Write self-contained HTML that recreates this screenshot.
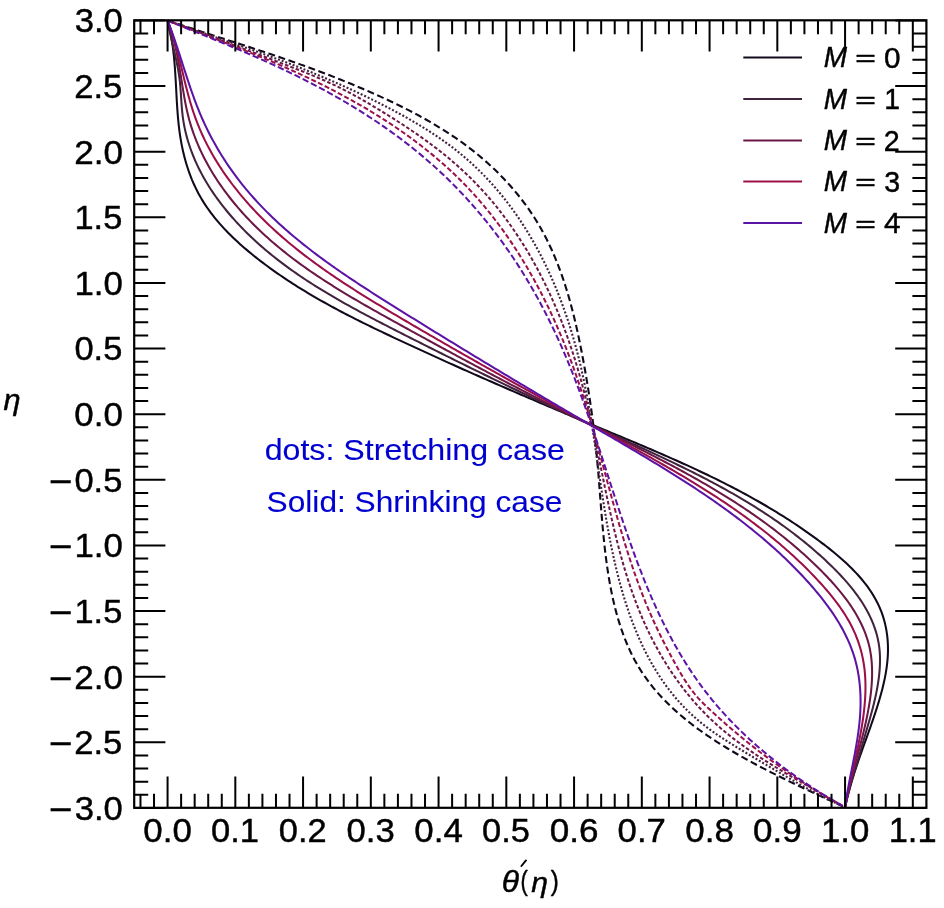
<!DOCTYPE html>
<html><head><meta charset="utf-8"><style>html,body{margin:0;padding:0;background:#fff;overflow:hidden}svg{display:block;will-change:transform}text{font-kerning:none;white-space:pre;stroke-width:0.45px;stroke-linejoin:round}text.a{stroke-width:0.1px}text.e{stroke-width:0.7px}</style></head><body>
<svg width="944" height="908" viewBox="0 0 944 908">
<rect width="944" height="908" fill="#fff"/>
<g fill="none" stroke-linejoin="round">
<path d="M167.60,20.60 L170.32,21.50 L173.05,22.40 L175.77,23.29 L178.50,24.19 L181.23,25.08 L183.95,25.96 L186.68,26.85 L189.41,27.73 L192.14,28.62 L194.86,29.50 L197.59,30.38 L200.32,31.26 L203.05,32.14 L205.78,33.01 L208.51,33.89 L211.24,34.77 L213.96,35.64 L216.69,36.52 L219.42,37.40 L222.15,38.27 L224.88,39.15 L227.60,40.03 L230.33,40.91 L233.06,41.79 L235.78,42.67 L238.51,43.55 L241.23,44.43 L243.95,45.32 L246.67,46.21 L249.39,47.10 L252.11,47.99 L254.83,48.88 L257.55,49.78 L260.27,50.68 L262.98,51.58 L265.70,52.49 L268.41,53.40 L271.12,54.31 L273.83,55.22 L276.54,56.14 L279.24,57.07 L281.95,58.00 L284.65,58.93 L287.35,59.87 L290.05,60.81 L292.75,61.76 L295.45,62.71 L298.14,63.66 L300.83,64.63 L303.52,65.59 L306.21,66.57 L308.89,67.54 L311.58,68.53 L314.26,69.52 L316.94,70.51 L319.61,71.52 L322.29,72.53 L324.96,73.54 L327.63,74.56 L330.30,75.59 L332.97,76.63 L335.63,77.67 L338.29,78.72 L340.95,79.78 L343.60,80.85 L346.26,81.92 L348.91,83.00 L351.56,84.09 L354.20,85.19 L356.84,86.29 L359.48,87.41 L362.12,88.53 L364.76,89.66 L367.39,90.80 L370.02,91.95 L372.64,93.11 L375.27,94.27 L377.89,95.45 L380.50,96.64 L383.12,97.84 L385.73,99.04 L388.34,100.26 L390.94,101.49 L393.54,102.73 L396.13,103.98 L398.72,105.24 L401.30,106.51 L403.88,107.80 L406.45,109.10 L409.01,110.41 L411.57,111.74 L414.12,113.07 L416.66,114.43 L419.20,115.79 L421.72,117.18 L424.24,118.57 L426.75,119.98 L429.25,121.41 L431.74,122.85 L434.21,124.31 L436.68,125.79 L439.14,127.28 L441.59,128.79 L444.02,130.32 L446.44,131.86 L448.85,133.42 L451.25,135.00 L453.64,136.60 L456.01,138.22 L458.36,139.86 L460.71,141.51 L463.04,143.19 L465.35,144.89 L467.65,146.61 L469.93,148.34 L472.20,150.10 L474.45,151.89 L476.69,153.69 L478.90,155.51 L481.10,157.36 L483.29,159.22 L485.45,161.11 L487.60,163.02 L489.72,164.94 L491.83,166.89 L493.92,168.86 L495.98,170.85 L498.03,172.86 L500.06,174.89 L502.06,176.93 L504.04,179.00 L506.00,181.09 L507.94,183.20 L509.85,185.32 L511.74,187.47 L513.61,189.63 L515.46,191.82 L517.27,194.02 L519.07,196.24 L520.84,198.48 L522.58,200.74 L524.29,203.02 L525.98,205.31 L527.65,207.62 L529.28,209.95 L530.89,212.30 L532.47,214.67 L534.02,217.05 L535.54,219.45 L537.03,221.87 L538.49,224.31 L539.93,226.76 L541.33,229.23 L542.71,231.72 L544.05,234.22 L545.37,236.74 L546.67,239.27 L547.93,241.82 L549.17,244.38 L550.38,246.95 L551.57,249.54 L552.73,252.14 L553.87,254.76 L554.98,257.39 L556.07,260.03 L557.14,262.68 L558.18,265.34 L559.20,268.01 L560.20,270.70 L561.18,273.39 L562.13,276.10 L563.07,278.81 L563.98,281.54 L564.88,284.27 L565.75,287.01 L566.61,289.76 L567.45,292.52 L568.27,295.28 L569.07,298.05 L569.86,300.83 L570.63,303.61 L571.38,306.40 L572.12,309.20 L572.84,312.00 L573.54,314.80 L574.24,317.61 L574.91,320.43 L575.58,323.24 L576.23,326.06 L576.87,328.89 L577.50,331.71 L578.11,334.54 L578.71,337.37 L579.31,340.20 L579.89,343.04 L580.46,345.87 L581.02,348.70 L581.58,351.54 L582.12,354.37 L582.66,357.20 L583.19,360.03 L583.71,362.86 L584.22,365.69 L584.73,368.52 L585.23,371.35 L585.72,374.17 L586.20,377.00 L586.68,379.82 L587.15,382.64 L587.61,385.46 L588.07,388.28 L588.52,391.10 L588.96,393.92 L589.39,396.74 L589.82,399.55 L590.23,402.37 L590.64,405.19 L591.05,408.00 L591.44,410.82 L591.83,413.64 L592.21,416.45 L592.59,419.27 L592.95,422.08 L593.31,424.90 L593.66,427.72 L594.01,430.53 L594.35,433.35 L594.67,436.17 L595.00,438.99 L595.31,441.81 L595.62,444.63 L595.92,447.45 L596.21,450.28 L596.50,453.10 L596.77,455.93 L597.05,458.76 L597.31,461.59 L597.56,464.43 L597.82,467.26 L598.06,470.10 L598.30,472.94 L598.53,475.78 L598.76,478.63 L598.99,481.47 L599.22,484.32 L599.44,487.17 L599.66,490.02 L599.88,492.88 L600.10,495.73 L600.32,498.59 L600.54,501.45 L600.77,504.31 L600.99,507.18 L601.22,510.04 L601.45,512.91 L601.69,515.78 L601.93,518.65 L602.17,521.53 L602.42,524.40 L602.68,527.28 L602.95,530.16 L603.22,533.04 L603.50,535.92 L603.79,538.80 L604.09,541.69 L604.39,544.58 L604.71,547.47 L605.04,550.36 L605.39,553.25 L605.74,556.14 L606.11,559.03 L606.49,561.92 L606.89,564.81 L607.30,567.70 L607.73,570.59 L608.17,573.47 L608.63,576.35 L609.11,579.22 L609.61,582.09 L610.12,584.96 L610.66,587.81 L611.21,590.66 L611.79,593.51 L612.39,596.34 L613.01,599.17 L613.65,601.99 L614.32,604.80 L615.01,607.59 L615.73,610.38 L616.47,613.16 L617.23,615.92 L618.03,618.67 L618.85,621.40 L619.70,624.13 L620.58,626.83 L621.48,629.53 L622.42,632.20 L623.39,634.86 L624.39,637.51 L625.42,640.13 L626.48,642.74 L627.58,645.32 L628.71,647.89 L629.87,650.44 L631.07,652.97 L632.30,655.47 L633.58,657.96 L634.88,660.42 L636.23,662.86 L637.61,665.27 L639.04,667.66 L640.50,670.03 L642.00,672.36 L643.55,674.68 L645.13,676.97 L646.75,679.23 L648.40,681.47 L650.10,683.69 L651.83,685.88 L653.59,688.04 L655.39,690.19 L657.22,692.31 L659.09,694.40 L660.98,696.48 L662.91,698.53 L664.87,700.56 L666.86,702.57 L668.88,704.56 L670.93,706.52 L673.01,708.47 L675.11,710.39 L677.24,712.29 L679.40,714.17 L681.58,716.04 L683.78,717.88 L686.01,719.70 L688.26,721.51 L690.54,723.29 L692.83,725.06 L695.15,726.81 L697.48,728.54 L699.84,730.25 L702.21,731.95 L704.60,733.62 L707.01,735.28 L709.43,736.93 L711.87,738.55 L714.33,740.17 L716.80,741.76 L719.28,743.34 L721.77,744.91 L724.28,746.45 L726.80,747.99 L729.33,749.51 L731.87,751.01 L734.41,752.51 L736.97,753.98 L739.53,755.45 L742.10,756.90 L744.68,758.34 L747.26,759.76 L749.85,761.18 L752.44,762.58 L755.03,763.97 L757.63,765.34 L760.23,766.71 L762.83,768.06 L765.43,769.41 L768.03,770.74 L770.62,772.07 L773.22,773.38 L775.82,774.68 L778.41,775.98 L780.99,777.26 L783.58,778.54 L786.16,779.81 L788.74,781.07 L791.32,782.32 L793.90,783.56 L796.47,784.80 L799.04,786.03 L801.61,787.25 L804.18,788.47 L806.75,789.68 L809.31,790.89 L811.88,792.09 L814.44,793.28 L817.00,794.47 L819.56,795.65 L822.11,796.83 L824.67,798.01 L827.23,799.18 L829.78,800.35 L832.33,801.51 L834.89,802.68 L837.44,803.83 L839.99,804.99 L842.55,806.15 L845.10,807.30" stroke="#120a1c" stroke-width="2.1" stroke-dasharray="7.0,3.6"/>
<path d="M167.60,20.60 L170.22,21.53 L172.85,22.46 L175.48,23.39 L178.12,24.32 L180.76,25.24 L183.41,26.17 L186.06,27.09 L188.71,28.01 L191.37,28.93 L194.03,29.85 L196.70,30.77 L199.36,31.68 L202.03,32.60 L204.71,33.52 L207.38,34.44 L210.06,35.36 L212.73,36.27 L215.41,37.19 L218.09,38.11 L220.78,39.03 L223.46,39.95 L226.14,40.88 L228.82,41.80 L231.50,42.73 L234.19,43.65 L236.87,44.58 L239.55,45.51 L242.22,46.44 L244.90,47.38 L247.58,48.32 L250.25,49.26 L252.92,50.20 L255.59,51.15 L258.25,52.10 L260.91,53.05 L263.57,54.01 L266.23,54.97 L268.88,55.93 L271.52,56.90 L274.17,57.87 L276.81,58.85 L279.44,59.83 L282.07,60.81 L284.69,61.80 L287.31,62.80 L289.92,63.80 L292.53,64.80 L295.13,65.81 L297.73,66.83 L300.32,67.85 L302.91,68.88 L305.50,69.91 L308.08,70.95 L310.66,72.00 L313.23,73.05 L315.80,74.11 L318.37,75.18 L320.93,76.25 L323.50,77.33 L326.05,78.42 L328.61,79.51 L331.16,80.61 L333.71,81.72 L336.26,82.84 L338.81,83.96 L341.35,85.10 L343.89,86.24 L346.43,87.39 L348.97,88.54 L351.50,89.71 L354.04,90.89 L356.57,92.07 L359.10,93.26 L361.64,94.47 L364.17,95.68 L366.70,96.90 L369.23,98.13 L371.75,99.37 L374.28,100.62 L376.81,101.89 L379.34,103.16 L381.87,104.44 L384.40,105.73 L386.92,107.04 L389.45,108.35 L391.97,109.68 L394.49,111.01 L397.01,112.36 L399.52,113.73 L402.03,115.10 L404.53,116.49 L407.02,117.89 L409.51,119.31 L411.99,120.74 L414.47,122.18 L416.93,123.64 L419.39,125.11 L421.83,126.60 L424.27,128.10 L426.69,129.62 L429.11,131.15 L431.51,132.70 L433.90,134.27 L436.27,135.85 L438.63,137.45 L440.97,139.07 L443.30,140.71 L445.62,142.36 L447.91,144.03 L450.19,145.72 L452.45,147.43 L454.70,149.16 L456.92,150.90 L459.12,152.67 L461.31,154.45 L463.47,156.26 L465.61,158.09 L467.73,159.93 L469.83,161.80 L471.91,163.68 L473.97,165.58 L476.01,167.51 L478.03,169.45 L480.03,171.40 L482.01,173.38 L483.96,175.37 L485.90,177.39 L487.82,179.42 L489.72,181.46 L491.60,183.53 L493.46,185.61 L495.30,187.70 L497.12,189.82 L498.92,191.95 L500.70,194.09 L502.46,196.25 L504.20,198.43 L505.93,200.62 L507.63,202.83 L509.32,205.05 L510.99,207.29 L512.63,209.54 L514.26,211.81 L515.87,214.09 L517.47,216.38 L519.04,218.69 L520.59,221.01 L522.13,223.34 L523.65,225.69 L525.15,228.05 L526.63,230.42 L528.10,232.81 L529.54,235.21 L530.97,237.62 L532.38,240.04 L533.77,242.47 L535.15,244.91 L536.51,247.37 L537.85,249.84 L539.17,252.31 L540.47,254.80 L541.76,257.30 L543.03,259.81 L544.29,262.32 L545.52,264.85 L546.74,267.39 L547.95,269.93 L549.13,272.49 L550.30,275.05 L551.45,277.63 L552.59,280.21 L553.71,282.80 L554.81,285.39 L555.90,288.00 L556.97,290.61 L558.02,293.23 L559.06,295.86 L560.08,298.49 L561.09,301.13 L562.08,303.78 L563.05,306.44 L564.01,309.10 L564.96,311.76 L565.88,314.43 L566.80,317.11 L567.69,319.79 L568.57,322.48 L569.44,325.17 L570.29,327.87 L571.13,330.57 L571.95,333.28 L572.75,335.99 L573.55,338.70 L574.32,341.42 L575.08,344.14 L575.83,346.86 L576.56,349.59 L577.28,352.32 L577.98,355.05 L578.67,357.78 L579.35,360.52 L580.01,363.26 L580.66,366.00 L581.29,368.74 L581.91,371.48 L582.52,374.23 L583.11,376.98 L583.70,379.73 L584.27,382.48 L584.83,385.23 L585.38,387.98 L585.92,390.74 L586.45,393.50 L586.97,396.26 L587.49,399.02 L587.99,401.78 L588.48,404.54 L588.97,407.30 L589.45,410.07 L589.92,412.84 L590.38,415.60 L590.84,418.37 L591.29,421.14 L591.74,423.91 L592.18,426.68 L592.61,429.46 L593.04,432.23 L593.47,435.00 L593.89,437.78 L594.31,440.56 L594.72,443.33 L595.13,446.11 L595.54,448.89 L595.95,451.67 L596.36,454.45 L596.76,457.23 L597.17,460.01 L597.57,462.79 L597.97,465.57 L598.37,468.35 L598.78,471.13 L599.18,473.91 L599.59,476.70 L599.99,479.48 L600.40,482.26 L600.82,485.04 L601.23,487.83 L601.65,490.61 L602.07,493.39 L602.49,496.18 L602.92,498.96 L603.36,501.74 L603.80,504.52 L604.24,507.31 L604.69,510.09 L605.15,512.87 L605.61,515.65 L606.08,518.43 L606.56,521.21 L607.04,523.99 L607.54,526.77 L608.04,529.55 L608.55,532.33 L609.07,535.10 L609.60,537.88 L610.13,540.66 L610.68,543.43 L611.24,546.21 L611.81,548.98 L612.40,551.75 L612.99,554.52 L613.60,557.29 L614.21,560.06 L614.85,562.83 L615.49,565.60 L616.15,568.36 L616.82,571.13 L617.51,573.89 L618.21,576.64 L618.92,579.40 L619.66,582.15 L620.40,584.89 L621.16,587.63 L621.94,590.37 L622.74,593.10 L623.55,595.82 L624.38,598.54 L625.22,601.25 L626.09,603.95 L626.97,606.65 L627.87,609.34 L628.79,612.02 L629.73,614.69 L630.69,617.35 L631.66,620.00 L632.66,622.64 L633.68,625.27 L634.72,627.90 L635.77,630.51 L636.85,633.10 L637.96,635.69 L639.08,638.26 L640.23,640.82 L641.40,643.37 L642.59,645.91 L643.80,648.43 L645.04,650.93 L646.30,653.42 L647.59,655.90 L648.90,658.36 L650.24,660.80 L651.60,663.23 L652.98,665.64 L654.40,668.03 L655.83,670.41 L657.30,672.77 L658.79,675.11 L660.31,677.43 L661.85,679.73 L663.43,682.01 L665.03,684.27 L666.66,686.51 L668.32,688.73 L670.01,690.93 L671.72,693.11 L673.47,695.26 L675.25,697.40 L677.05,699.50 L678.89,701.59 L680.76,703.65 L682.66,705.69 L684.59,707.71 L686.56,709.69 L688.55,711.66 L690.58,713.60 L692.64,715.51 L694.73,717.39 L696.86,719.25 L699.02,721.08 L701.22,722.88 L703.45,724.66 L705.71,726.41 L707.99,728.14 L710.31,729.84 L712.64,731.52 L715.00,733.18 L717.38,734.81 L719.78,736.43 L722.20,738.03 L724.62,739.62 L727.07,741.18 L729.52,742.74 L731.98,744.28 L734.45,745.80 L736.92,747.32 L739.39,748.82 L741.86,750.31 L744.34,751.80 L746.81,753.28 L749.27,754.75 L751.72,756.22 L754.17,757.68 L756.61,759.14 L759.05,760.59 L761.47,762.03 L763.90,763.48 L766.31,764.91 L768.73,766.34 L771.14,767.77 L773.55,769.19 L775.95,770.61 L778.35,772.02 L780.76,773.42 L783.16,774.82 L785.56,776.21 L787.97,777.59 L790.37,778.97 L792.78,780.35 L795.20,781.72 L797.61,783.08 L800.03,784.43 L802.46,785.78 L804.89,787.12 L807.33,788.46 L809.77,789.78 L812.22,791.10 L814.68,792.41 L817.15,793.71 L819.63,795.00 L822.12,796.28 L824.62,797.55 L827.14,798.82 L829.66,800.06 L832.20,801.30 L834.75,802.53 L837.31,803.74 L839.89,804.94 L842.49,806.13 L845.10,807.30" stroke="#42233e" stroke-width="2.1" stroke-dasharray="2.0,1.9"/>
<path d="M167.60,20.60 L170.20,21.53 L172.80,22.47 L175.40,23.41 L178.00,24.35 L180.60,25.30 L183.21,26.24 L185.81,27.19 L188.41,28.15 L191.01,29.10 L193.62,30.06 L196.22,31.02 L198.83,31.98 L201.43,32.94 L204.03,33.91 L206.64,34.88 L209.24,35.85 L211.85,36.82 L214.45,37.79 L217.05,38.77 L219.66,39.74 L222.26,40.72 L224.87,41.70 L227.47,42.68 L230.08,43.66 L232.68,44.64 L235.28,45.63 L237.89,46.61 L240.49,47.60 L243.09,48.59 L245.70,49.58 L248.30,50.57 L250.90,51.56 L253.50,52.55 L256.10,53.54 L258.70,54.53 L261.30,55.52 L263.90,56.51 L266.50,57.51 L269.10,58.50 L271.70,59.49 L274.29,60.49 L276.89,61.48 L279.49,62.48 L282.08,63.47 L284.68,64.46 L287.27,65.46 L289.86,66.45 L292.45,67.46 L295.03,68.46 L297.61,69.47 L300.19,70.48 L302.77,71.50 L305.34,72.53 L307.90,73.56 L310.46,74.61 L313.02,75.66 L315.56,76.73 L318.10,77.80 L320.64,78.89 L323.16,79.99 L325.68,81.10 L328.19,82.23 L330.69,83.38 L333.18,84.54 L335.66,85.71 L338.13,86.91 L340.59,88.12 L343.04,89.35 L345.48,90.60 L347.91,91.87 L350.33,93.16 L352.75,94.46 L355.15,95.78 L357.55,97.11 L359.95,98.45 L362.34,99.81 L364.72,101.19 L367.10,102.57 L369.48,103.97 L371.85,105.38 L374.22,106.80 L376.59,108.22 L378.96,109.66 L381.33,111.11 L383.70,112.56 L386.06,114.03 L388.43,115.50 L390.80,116.98 L393.16,118.47 L395.52,119.97 L397.88,121.48 L400.23,123.00 L402.58,124.53 L404.93,126.07 L407.27,127.62 L409.60,129.18 L411.93,130.76 L414.25,132.34 L416.56,133.93 L418.87,135.54 L421.17,137.16 L423.46,138.79 L425.74,140.43 L428.01,142.08 L430.27,143.75 L432.52,145.43 L434.76,147.12 L436.98,148.82 L439.20,150.54 L441.40,152.28 L443.59,154.02 L445.76,155.78 L447.92,157.56 L450.07,159.34 L452.20,161.15 L454.31,162.97 L456.41,164.80 L458.49,166.65 L460.55,168.51 L462.60,170.39 L464.63,172.29 L466.64,174.20 L468.63,176.12 L470.61,178.06 L472.56,180.02 L474.51,181.99 L476.43,183.97 L478.33,185.97 L480.22,187.98 L482.09,190.01 L483.95,192.05 L485.79,194.11 L487.61,196.18 L489.41,198.26 L491.20,200.36 L492.97,202.47 L494.72,204.59 L496.46,206.72 L498.18,208.87 L499.88,211.03 L501.57,213.21 L503.24,215.39 L504.90,217.59 L506.54,219.80 L508.16,222.03 L509.77,224.26 L511.36,226.51 L512.93,228.77 L514.49,231.03 L516.03,233.32 L517.56,235.61 L519.07,237.91 L520.57,240.22 L522.05,242.55 L523.52,244.88 L524.97,247.23 L526.40,249.59 L527.82,251.95 L529.23,254.33 L530.62,256.71 L531.99,259.11 L533.35,261.52 L534.70,263.93 L536.03,266.35 L537.34,268.79 L538.64,271.23 L539.93,273.68 L541.20,276.14 L542.46,278.61 L543.70,281.09 L544.93,283.57 L546.14,286.07 L547.34,288.57 L548.53,291.08 L549.70,293.59 L550.86,296.12 L552.00,298.65 L553.13,301.19 L554.25,303.74 L555.35,306.29 L556.44,308.85 L557.51,311.42 L558.58,313.99 L559.62,316.57 L560.66,319.16 L561.68,321.75 L562.69,324.35 L563.69,326.95 L564.67,329.56 L565.64,332.18 L566.59,334.80 L567.54,337.43 L568.47,340.06 L569.38,342.70 L570.29,345.34 L571.18,347.98 L572.06,350.64 L572.93,353.29 L573.78,355.95 L574.63,358.61 L575.46,361.28 L576.27,363.95 L577.08,366.63 L577.87,369.31 L578.66,371.99 L579.43,374.68 L580.18,377.37 L580.93,380.06 L581.67,382.75 L582.39,385.45 L583.11,388.15 L583.81,390.86 L584.50,393.56 L585.19,396.27 L585.86,398.98 L586.53,401.69 L587.19,404.41 L587.84,407.12 L588.48,409.84 L589.11,412.56 L589.74,415.28 L590.36,418.01 L590.98,420.73 L591.59,423.46 L592.19,426.19 L592.79,428.92 L593.38,431.64 L593.97,434.38 L594.55,437.11 L595.13,439.84 L595.70,442.57 L596.28,445.30 L596.85,448.04 L597.41,450.77 L597.98,453.50 L598.54,456.24 L599.10,458.97 L599.66,461.70 L600.22,464.44 L600.77,467.17 L601.33,469.90 L601.89,472.63 L602.45,475.37 L603.00,478.10 L603.56,480.82 L604.13,483.55 L604.69,486.28 L605.25,489.01 L605.82,491.73 L606.39,494.45 L606.96,497.17 L607.54,499.89 L608.12,502.61 L608.71,505.33 L609.30,508.04 L609.89,510.75 L610.49,513.46 L611.09,516.17 L611.70,518.87 L612.32,521.58 L612.94,524.28 L613.57,526.97 L614.21,529.67 L614.86,532.36 L615.51,535.04 L616.17,537.73 L616.84,540.41 L617.52,543.09 L618.21,545.76 L618.91,548.43 L619.61,551.10 L620.33,553.76 L621.06,556.42 L621.80,559.08 L622.55,561.73 L623.31,564.37 L624.09,567.02 L624.87,569.65 L625.67,572.29 L626.49,574.92 L627.31,577.54 L628.15,580.16 L629.01,582.77 L629.87,585.38 L630.76,587.98 L631.65,590.58 L632.57,593.17 L633.50,595.76 L634.44,598.34 L635.40,600.92 L636.38,603.49 L637.38,606.05 L638.39,608.61 L639.42,611.16 L640.47,613.70 L641.54,616.24 L642.62,618.77 L643.73,621.30 L644.85,623.82 L646.00,626.33 L647.16,628.83 L648.35,631.33 L649.55,633.82 L650.78,636.30 L652.03,638.78 L653.29,641.24 L654.58,643.70 L655.89,646.15 L657.22,648.59 L658.57,651.01 L659.94,653.43 L661.34,655.84 L662.75,658.23 L664.18,660.61 L665.63,662.98 L667.11,665.34 L668.60,667.69 L670.12,670.02 L671.66,672.34 L673.21,674.65 L674.79,676.94 L676.39,679.21 L678.01,681.47 L679.65,683.72 L681.31,685.95 L682.99,688.16 L684.69,690.35 L686.42,692.53 L688.16,694.69 L689.93,696.84 L691.71,698.96 L693.52,701.07 L695.34,703.16 L697.19,705.23 L699.06,707.27 L700.95,709.30 L702.86,711.31 L704.79,713.30 L706.74,715.26 L708.71,717.20 L710.71,719.13 L712.72,721.02 L714.75,722.90 L716.81,724.76 L718.88,726.59 L720.97,728.41 L723.08,730.20 L725.21,731.98 L727.35,733.73 L729.51,735.47 L731.69,737.19 L733.88,738.89 L736.08,740.58 L738.31,742.25 L740.54,743.90 L742.79,745.53 L745.05,747.15 L747.33,748.76 L749.61,750.35 L751.91,751.93 L754.22,753.49 L756.54,755.04 L758.87,756.58 L761.21,758.10 L763.55,759.62 L765.91,761.12 L768.27,762.61 L770.65,764.09 L773.02,765.56 L775.41,767.02 L777.80,768.48 L780.20,769.92 L782.60,771.36 L785.00,772.78 L787.41,774.20 L789.82,775.62 L792.24,777.03 L794.66,778.43 L797.08,779.82 L799.50,781.21 L801.92,782.60 L804.35,783.98 L806.77,785.36 L809.19,786.74 L811.61,788.11 L814.03,789.48 L816.45,790.85 L818.86,792.22 L821.27,793.59 L823.68,794.95 L826.08,796.32 L828.48,797.68 L830.88,799.05 L833.26,800.42 L835.64,801.79 L838.02,803.16 L840.39,804.54 L842.75,805.92 L845.10,807.30" stroke="#6b1846" stroke-width="2.0" stroke-dasharray="3.6,2.1"/>
<path d="M167.60,20.60 L170.21,21.62 L172.81,22.63 L175.41,23.63 L178.00,24.64 L180.59,25.64 L183.18,26.64 L185.76,27.63 L188.34,28.62 L190.92,29.61 L193.49,30.60 L196.06,31.58 L198.63,32.57 L201.19,33.55 L203.75,34.53 L206.31,35.51 L208.86,36.49 L211.41,37.47 L213.96,38.45 L216.51,39.43 L219.05,40.41 L221.59,41.39 L224.13,42.38 L226.67,43.36 L229.20,44.35 L231.73,45.34 L234.26,46.33 L236.79,47.33 L239.32,48.32 L241.84,49.33 L244.37,50.33 L246.89,51.34 L249.41,52.35 L251.93,53.37 L254.45,54.39 L256.96,55.42 L259.48,56.45 L261.99,57.49 L264.50,58.53 L267.02,59.58 L269.53,60.64 L272.04,61.70 L274.55,62.78 L277.06,63.85 L279.57,64.94 L282.08,66.03 L284.59,67.14 L287.10,68.25 L289.60,69.36 L292.11,70.49 L294.62,71.63 L297.12,72.77 L299.62,73.92 L302.12,75.08 L304.62,76.25 L307.12,77.43 L309.61,78.61 L312.10,79.81 L314.59,81.01 L317.08,82.23 L319.56,83.45 L322.04,84.68 L324.52,85.92 L326.99,87.17 L329.46,88.43 L331.93,89.70 L334.39,90.98 L336.84,92.26 L339.30,93.56 L341.74,94.87 L344.19,96.18 L346.63,97.51 L349.06,98.85 L351.49,100.19 L353.91,101.55 L356.32,102.91 L358.73,104.29 L361.14,105.68 L363.54,107.07 L365.93,108.48 L368.31,109.90 L370.69,111.33 L373.06,112.77 L375.43,114.22 L377.78,115.68 L380.13,117.15 L382.47,118.63 L384.80,120.12 L387.13,121.63 L389.45,123.14 L391.75,124.67 L394.05,126.20 L396.35,127.75 L398.63,129.31 L400.90,130.88 L403.16,132.47 L405.42,134.06 L407.66,135.67 L409.90,137.29 L412.12,138.92 L414.33,140.56 L416.54,142.21 L418.73,143.88 L420.91,145.56 L423.08,147.25 L425.24,148.95 L427.39,150.66 L429.53,152.39 L431.65,154.13 L433.77,155.88 L435.87,157.64 L437.96,159.42 L440.03,161.21 L442.10,163.01 L444.15,164.83 L446.19,166.66 L448.21,168.50 L450.22,170.35 L452.22,172.22 L454.21,174.10 L456.18,175.99 L458.13,177.90 L460.08,179.82 L462.00,181.76 L463.92,183.70 L465.82,185.66 L467.70,187.64 L469.57,189.63 L471.43,191.63 L473.27,193.64 L475.10,195.66 L476.91,197.70 L478.71,199.75 L480.50,201.81 L482.27,203.89 L484.03,205.98 L485.77,208.07 L487.50,210.18 L489.22,212.31 L490.92,214.44 L492.61,216.58 L494.29,218.74 L495.95,220.91 L497.60,223.08 L499.23,225.27 L500.86,227.47 L502.47,229.68 L504.06,231.90 L505.64,234.13 L507.21,236.37 L508.77,238.62 L510.31,240.88 L511.84,243.15 L513.36,245.43 L514.86,247.72 L516.36,250.02 L517.83,252.33 L519.30,254.65 L520.75,256.97 L522.19,259.31 L523.62,261.65 L525.04,264.00 L526.44,266.36 L527.83,268.73 L529.21,271.11 L530.58,273.50 L531.93,275.89 L533.27,278.29 L534.60,280.70 L535.92,283.11 L537.22,285.54 L538.52,287.97 L539.80,290.41 L541.07,292.85 L542.33,295.30 L543.57,297.76 L544.80,300.23 L546.03,302.70 L547.24,305.18 L548.44,307.66 L549.62,310.15 L550.80,312.65 L551.96,315.15 L553.12,317.66 L554.26,320.18 L555.39,322.70 L556.51,325.22 L557.62,327.75 L558.71,330.29 L559.80,332.83 L560.87,335.37 L561.94,337.92 L562.99,340.47 L564.03,343.03 L565.06,345.59 L566.08,348.16 L567.09,350.73 L568.09,353.31 L569.08,355.89 L570.06,358.47 L571.03,361.05 L571.98,363.64 L572.93,366.24 L573.87,368.83 L574.79,371.43 L575.71,374.03 L576.61,376.64 L577.51,379.24 L578.39,381.85 L579.27,384.46 L580.14,387.08 L581.00,389.69 L581.84,392.31 L582.69,394.93 L583.52,397.56 L584.34,400.18 L585.16,402.81 L585.97,405.44 L586.77,408.07 L587.57,410.70 L588.36,413.33 L589.14,415.97 L589.92,418.61 L590.69,421.25 L591.46,423.89 L592.22,426.53 L592.98,429.17 L593.73,431.81 L594.48,434.46 L595.22,437.10 L595.96,439.75 L596.69,442.39 L597.43,445.04 L598.16,447.69 L598.88,450.34 L599.61,452.99 L600.33,455.64 L601.05,458.29 L601.77,460.94 L602.49,463.59 L603.20,466.24 L603.92,468.89 L604.63,471.54 L605.35,474.19 L606.06,476.84 L606.77,479.49 L607.49,482.14 L608.21,484.79 L608.92,487.44 L609.64,490.09 L610.36,492.73 L611.08,495.38 L611.80,498.02 L612.53,500.67 L613.26,503.31 L613.99,505.96 L614.72,508.60 L615.46,511.24 L616.20,513.88 L616.95,516.51 L617.70,519.15 L618.45,521.78 L619.21,524.42 L619.98,527.05 L620.75,529.68 L621.52,532.31 L622.30,534.93 L623.09,537.55 L623.88,540.18 L624.68,542.80 L625.49,545.41 L626.30,548.03 L627.13,550.64 L627.96,553.25 L628.79,555.86 L629.64,558.46 L630.49,561.07 L631.36,563.67 L632.23,566.26 L633.11,568.86 L634.00,571.45 L634.90,574.03 L635.81,576.62 L636.74,579.20 L637.67,581.78 L638.61,584.35 L639.57,586.92 L640.53,589.49 L641.51,592.06 L642.50,594.62 L643.50,597.17 L644.52,599.73 L645.54,602.27 L646.58,604.82 L647.64,607.36 L648.71,609.90 L649.79,612.43 L650.88,614.96 L651.99,617.48 L653.12,620.00 L654.26,622.51 L655.42,625.02 L656.59,627.53 L657.77,630.03 L658.98,632.53 L660.19,635.02 L661.42,637.50 L662.67,639.98 L663.93,642.46 L665.19,644.92 L666.47,647.39 L667.76,649.84 L669.06,652.29 L670.36,654.73 L671.67,657.17 L672.98,659.59 L674.30,662.01 L675.62,664.43 L676.96,666.83 L678.30,669.21 L679.66,671.59 L681.04,673.94 L682.44,676.28 L683.86,678.59 L685.31,680.88 L686.78,683.14 L688.30,685.38 L689.84,687.59 L691.43,689.76 L693.06,691.90 L694.73,694.00 L696.45,696.07 L698.23,698.09 L700.06,700.07 L701.93,702.01 L703.85,703.92 L705.79,705.81 L707.76,707.68 L709.75,709.53 L711.74,711.39 L713.74,713.23 L715.75,715.07 L717.77,716.90 L719.80,718.72 L721.84,720.54 L723.88,722.35 L725.93,724.15 L728.00,725.94 L730.07,727.73 L732.15,729.51 L734.23,731.29 L736.33,733.05 L738.43,734.81 L740.54,736.56 L742.66,738.30 L744.79,740.03 L746.92,741.76 L749.07,743.48 L751.22,745.19 L753.38,746.89 L755.54,748.58 L757.71,750.27 L759.89,751.94 L762.08,753.61 L764.28,755.27 L766.48,756.92 L768.69,758.56 L770.90,760.20 L773.13,761.82 L775.36,763.44 L777.59,765.04 L779.83,766.64 L782.08,768.23 L784.34,769.80 L786.60,771.37 L788.87,772.93 L791.15,774.48 L793.43,776.02 L795.72,777.55 L798.02,779.07 L800.32,780.58 L802.62,782.08 L804.94,783.58 L807.25,785.06 L809.58,786.53 L811.91,787.99 L814.25,789.44 L816.59,790.87 L818.93,792.30 L821.29,793.72 L823.65,795.13 L826.01,796.52 L828.38,797.91 L830.75,799.28 L833.13,800.65 L835.51,802.00 L837.90,803.34 L840.30,804.67 L842.70,805.99 L845.10,807.30" stroke="#9c1048" stroke-width="2.0" stroke-dasharray="5.0,2.4"/>
<path d="M167.60,20.60 L170.12,21.62 L172.63,22.64 L175.15,23.66 L177.67,24.67 L180.18,25.69 L182.70,26.71 L185.22,27.72 L187.74,28.74 L190.26,29.76 L192.79,30.77 L195.31,31.79 L197.83,32.81 L200.35,33.83 L202.87,34.85 L205.40,35.87 L207.92,36.89 L210.44,37.92 L212.96,38.95 L215.48,39.98 L218.00,41.01 L220.52,42.04 L223.03,43.08 L225.55,44.12 L228.07,45.16 L230.58,46.21 L233.09,47.26 L235.61,48.31 L238.12,49.37 L240.63,50.43 L243.13,51.49 L245.64,52.56 L248.14,53.64 L250.64,54.72 L253.14,55.80 L255.64,56.89 L258.14,57.99 L260.63,59.09 L263.12,60.19 L265.61,61.30 L268.09,62.42 L270.58,63.55 L273.06,64.68 L275.53,65.82 L278.01,66.96 L280.48,68.11 L282.94,69.27 L285.41,70.44 L287.87,71.62 L290.32,72.80 L292.78,73.99 L295.23,75.19 L297.67,76.39 L300.11,77.60 L302.55,78.82 L304.99,80.05 L307.41,81.29 L309.84,82.54 L312.26,83.79 L314.67,85.05 L317.09,86.32 L319.49,87.60 L321.89,88.89 L324.29,90.18 L326.68,91.49 L329.07,92.80 L331.45,94.12 L333.82,95.45 L336.19,96.79 L338.56,98.14 L340.92,99.50 L343.27,100.87 L345.62,102.25 L347.96,103.63 L350.30,105.03 L352.63,106.43 L354.95,107.85 L357.27,109.27 L359.58,110.71 L361.88,112.15 L364.18,113.60 L366.47,115.07 L368.75,116.54 L371.03,118.02 L373.30,119.52 L375.56,121.02 L377.82,122.54 L380.06,124.06 L382.30,125.60 L384.54,127.15 L386.76,128.70 L388.98,130.27 L391.19,131.85 L393.39,133.44 L395.59,135.04 L397.77,136.65 L399.95,138.27 L402.12,139.91 L404.28,141.55 L406.43,143.21 L408.57,144.87 L410.71,146.55 L412.84,148.24 L414.95,149.95 L417.06,151.66 L419.16,153.39 L421.25,155.12 L423.33,156.87 L425.40,158.64 L427.46,160.41 L429.51,162.20 L431.56,163.99 L433.59,165.80 L435.61,167.63 L437.62,169.46 L439.63,171.31 L441.62,173.17 L443.60,175.04 L445.57,176.93 L447.53,178.83 L449.48,180.74 L451.42,182.66 L453.35,184.59 L455.27,186.54 L457.18,188.49 L459.08,190.46 L460.96,192.44 L462.84,194.43 L464.70,196.43 L466.56,198.44 L468.40,200.46 L470.23,202.50 L472.05,204.54 L473.86,206.59 L475.66,208.65 L477.44,210.73 L479.21,212.81 L480.98,214.90 L482.73,217.00 L484.46,219.12 L486.19,221.24 L487.91,223.36 L489.61,225.50 L491.30,227.65 L492.98,229.81 L494.64,231.97 L496.30,234.14 L497.94,236.32 L499.57,238.51 L501.18,240.71 L502.79,242.91 L504.38,245.12 L505.96,247.34 L507.52,249.57 L509.08,251.80 L510.62,254.04 L512.14,256.29 L513.66,258.54 L515.16,260.80 L516.65,263.07 L518.12,265.34 L519.58,267.62 L521.03,269.91 L522.47,272.20 L523.89,274.50 L525.31,276.80 L526.70,279.11 L528.09,281.43 L529.47,283.75 L530.83,286.08 L532.18,288.41 L533.52,290.76 L534.85,293.10 L536.16,295.46 L537.47,297.82 L538.76,300.18 L540.04,302.55 L541.31,304.93 L542.57,307.31 L543.82,309.70 L545.05,312.09 L546.28,314.49 L547.50,316.90 L548.70,319.31 L549.90,321.72 L551.08,324.14 L552.26,326.57 L553.42,329.00 L554.58,331.44 L555.72,333.89 L556.86,336.34 L557.98,338.79 L559.10,341.25 L560.20,343.71 L561.30,346.18 L562.39,348.66 L563.47,351.14 L564.54,353.63 L565.60,356.12 L566.65,358.61 L567.69,361.11 L568.73,363.62 L569.75,366.13 L570.77,368.64 L571.78,371.16 L572.78,373.69 L573.78,376.22 L574.76,378.76 L575.74,381.29 L576.71,383.84 L577.68,386.39 L578.63,388.94 L579.58,391.50 L580.53,394.06 L581.47,396.62 L582.40,399.19 L583.32,401.76 L584.24,404.34 L585.15,406.91 L586.06,409.50 L586.97,412.08 L587.87,414.67 L588.76,417.26 L589.65,419.85 L590.53,422.45 L591.41,425.05 L592.29,427.65 L593.16,430.25 L594.03,432.85 L594.90,435.46 L595.76,438.07 L596.62,440.68 L597.48,443.29 L598.34,445.91 L599.19,448.52 L600.04,451.14 L600.89,453.76 L601.74,456.37 L602.59,458.99 L603.43,461.61 L604.27,464.23 L605.12,466.86 L605.96,469.48 L606.80,472.10 L607.65,474.72 L608.49,477.34 L609.33,479.96 L610.17,482.59 L611.02,485.21 L611.86,487.83 L612.71,490.45 L613.55,493.07 L614.40,495.68 L615.25,498.30 L616.10,500.92 L616.96,503.53 L617.81,506.15 L618.67,508.76 L619.53,511.37 L620.40,513.98 L621.27,516.58 L622.14,519.19 L623.01,521.79 L623.89,524.39 L624.77,526.99 L625.66,529.59 L626.55,532.18 L627.44,534.77 L628.34,537.36 L629.25,539.94 L630.16,542.52 L631.07,545.10 L631.99,547.68 L632.92,550.25 L633.85,552.81 L634.79,555.38 L635.74,557.94 L636.69,560.49 L637.65,563.05 L638.62,565.59 L639.59,568.14 L640.57,570.68 L641.56,573.21 L642.56,575.74 L643.56,578.27 L644.57,580.79 L645.59,583.30 L646.62,585.81 L647.66,588.31 L648.71,590.81 L649.77,593.31 L650.83,595.79 L651.91,598.28 L653.00,600.75 L654.09,603.22 L655.20,605.68 L656.32,608.14 L657.45,610.59 L658.59,613.03 L659.74,615.47 L660.90,617.90 L662.07,620.33 L663.26,622.74 L664.45,625.15 L665.66,627.55 L666.88,629.95 L668.12,632.33 L669.37,634.71 L670.63,637.09 L671.90,639.45 L673.19,641.80 L674.49,644.15 L675.80,646.49 L677.13,648.82 L678.47,651.14 L679.83,653.45 L681.20,655.76 L682.59,658.05 L683.99,660.34 L685.41,662.62 L686.84,664.89 L688.29,667.14 L689.75,669.39 L691.24,671.63 L692.73,673.86 L694.25,676.08 L695.78,678.29 L697.32,680.49 L698.89,682.68 L700.47,684.86 L702.07,687.02 L703.68,689.18 L705.32,691.33 L706.97,693.46 L708.64,695.59 L710.33,697.70 L712.04,699.80 L713.77,701.89 L715.52,703.97 L717.28,706.04 L719.06,708.10 L720.86,710.14 L722.67,712.17 L724.50,714.19 L726.35,716.20 L728.22,718.20 L730.10,720.19 L731.99,722.16 L733.90,724.13 L735.83,726.08 L737.77,728.02 L739.73,729.94 L741.70,731.86 L743.68,733.76 L745.68,735.65 L747.69,737.53 L749.71,739.39 L751.75,741.25 L753.80,743.09 L755.86,744.92 L757.93,746.73 L760.02,748.54 L762.11,750.33 L764.22,752.11 L766.34,753.87 L768.47,755.62 L770.60,757.36 L772.75,759.09 L774.91,760.81 L777.08,762.51 L779.26,764.20 L781.44,765.87 L783.64,767.54 L785.84,769.18 L788.05,770.82 L790.27,772.44 L792.49,774.05 L794.73,775.65 L796.97,777.23 L799.21,778.80 L801.47,780.36 L803.73,781.90 L805.99,783.43 L808.26,784.95 L810.54,786.45 L812.82,787.93 L815.10,789.41 L817.39,790.87 L819.68,792.32 L821.98,793.75 L824.28,795.17 L826.59,796.57 L828.89,797.96 L831.20,799.34 L833.52,800.70 L835.83,802.05 L838.15,803.38 L840.46,804.70 L842.78,806.01 L845.10,807.30" stroke="#5c14a6" stroke-width="2.0" stroke-dasharray="6.4,2.8"/>
<path d="M167.60,20.60 L168.36,23.50 L169.06,26.40 L169.72,29.31 L170.34,32.23 L170.90,35.16 L171.43,38.10 L171.92,41.04 L172.37,43.98 L172.78,46.94 L173.16,49.89 L173.51,52.86 L173.84,55.83 L174.13,58.80 L174.40,61.78 L174.66,64.77 L174.89,67.76 L175.10,70.75 L175.30,73.75 L175.49,76.75 L175.66,79.75 L175.83,82.76 L175.99,85.77 L176.15,88.78 L176.31,91.80 L176.47,94.81 L176.63,97.83 L176.80,100.84 L176.98,103.85 L177.17,106.86 L177.38,109.87 L177.60,112.88 L177.84,115.88 L178.10,118.88 L178.39,121.87 L178.70,124.86 L179.05,127.84 L179.42,130.82 L179.83,133.79 L180.28,136.75 L180.76,139.70 L181.28,142.65 L181.84,145.58 L182.44,148.50 L183.08,151.41 L183.77,154.31 L184.49,157.19 L185.26,160.05 L186.08,162.91 L186.94,165.74 L187.84,168.55 L188.79,171.35 L189.79,174.13 L190.84,176.88 L191.93,179.62 L193.08,182.33 L194.28,185.02 L195.53,187.68 L196.83,190.32 L198.18,192.93 L199.59,195.51 L201.05,198.07 L202.57,200.60 L204.13,203.10 L205.75,205.57 L207.42,208.01 L209.14,210.43 L210.90,212.82 L212.71,215.18 L214.56,217.52 L216.45,219.83 L218.38,222.12 L220.35,224.38 L222.36,226.62 L224.40,228.83 L226.48,231.01 L228.58,233.18 L230.72,235.31 L232.89,237.43 L235.09,239.52 L237.31,241.59 L239.56,243.64 L241.83,245.66 L244.12,247.66 L246.43,249.64 L248.76,251.60 L251.11,253.54 L253.47,255.46 L255.85,257.36 L258.23,259.23 L260.63,261.09 L263.04,262.93 L265.46,264.75 L267.89,266.55 L270.33,268.33 L272.78,270.09 L275.24,271.83 L277.70,273.56 L280.18,275.27 L282.66,276.96 L285.15,278.64 L287.65,280.30 L290.16,281.94 L292.68,283.57 L295.20,285.19 L297.74,286.78 L300.28,288.37 L302.82,289.94 L305.38,291.49 L307.94,293.03 L310.51,294.56 L313.08,296.08 L315.67,297.58 L318.25,299.07 L320.85,300.55 L323.45,302.01 L326.06,303.47 L328.67,304.91 L331.29,306.34 L333.91,307.77 L336.54,309.18 L339.18,310.58 L341.81,311.97 L344.46,313.36 L347.11,314.73 L349.76,316.10 L352.42,317.46 L355.08,318.81 L357.75,320.15 L360.42,321.49 L363.09,322.82 L365.77,324.14 L368.45,325.45 L371.13,326.76 L373.82,328.07 L376.51,329.37 L379.20,330.66 L381.90,331.95 L384.60,333.24 L387.30,334.52 L390.00,335.80 L392.70,337.07 L395.41,338.34 L398.12,339.61 L400.83,340.88 L403.54,342.14 L406.25,343.40 L408.96,344.66 L411.68,345.92 L414.40,347.18 L417.11,348.43 L419.83,349.68 L422.55,350.93 L425.27,352.18 L428.00,353.43 L430.72,354.67 L433.44,355.91 L436.17,357.15 L438.90,358.39 L441.63,359.63 L444.36,360.86 L447.09,362.09 L449.82,363.32 L452.55,364.55 L455.28,365.78 L458.02,367.00 L460.75,368.23 L463.49,369.45 L466.23,370.67 L468.97,371.89 L471.71,373.10 L474.45,374.32 L477.19,375.53 L479.93,376.74 L482.67,377.95 L485.42,379.15 L488.16,380.36 L490.91,381.56 L493.65,382.77 L496.40,383.97 L499.15,385.17 L501.90,386.36 L504.65,387.56 L507.39,388.75 L510.15,389.95 L512.90,391.14 L515.65,392.33 L518.40,393.51 L521.15,394.70 L523.91,395.88 L526.66,397.07 L529.41,398.25 L532.17,399.43 L534.92,400.61 L537.68,401.79 L540.43,402.96 L543.19,404.14 L545.95,405.31 L548.71,406.48 L551.46,407.65 L554.22,408.82 L556.98,409.99 L559.74,411.15 L562.50,412.32 L565.26,413.48 L568.01,414.65 L570.77,415.81 L573.53,416.97 L576.29,418.13 L579.05,419.28 L581.81,420.44 L584.57,421.59 L587.33,422.75 L590.10,423.90 L592.86,425.05 L595.62,426.20 L598.38,427.35 L601.14,428.50 L603.90,429.65 L606.66,430.80 L609.42,431.94 L612.18,433.09 L614.93,434.24 L617.69,435.39 L620.45,436.54 L623.21,437.69 L625.96,438.84 L628.72,440.00 L631.47,441.15 L634.22,442.31 L636.97,443.47 L639.72,444.63 L642.47,445.79 L645.22,446.96 L647.96,448.13 L650.70,449.30 L653.45,450.48 L656.19,451.66 L658.92,452.84 L661.66,454.03 L664.39,455.22 L667.12,456.42 L669.85,457.62 L672.58,458.82 L675.31,460.03 L678.03,461.25 L680.75,462.47 L683.46,463.70 L686.18,464.93 L688.89,466.17 L691.60,467.42 L694.30,468.67 L697.00,469.93 L699.70,471.20 L702.40,472.47 L705.09,473.75 L707.78,475.04 L710.46,476.34 L713.14,477.64 L715.82,478.95 L718.50,480.27 L721.17,481.60 L723.83,482.94 L726.49,484.29 L729.15,485.65 L731.80,487.02 L734.45,488.39 L737.10,489.78 L739.74,491.18 L742.38,492.58 L745.01,494.00 L747.63,495.43 L750.25,496.87 L752.87,498.32 L755.48,499.79 L758.09,501.26 L760.69,502.75 L763.29,504.25 L765.88,505.76 L768.46,507.28 L771.04,508.82 L773.62,510.37 L776.19,511.93 L778.75,513.51 L781.31,515.09 L783.86,516.70 L786.40,518.32 L788.94,519.95 L791.47,521.59 L794.00,523.26 L796.52,524.93 L799.03,526.62 L801.54,528.33 L804.04,530.05 L806.53,531.79 L809.02,533.54 L811.50,535.31 L813.98,537.10 L816.44,538.90 L818.90,540.72 L821.35,542.56 L823.80,544.42 L826.23,546.29 L828.65,548.18 L831.05,550.09 L833.43,552.02 L835.80,553.97 L838.14,555.95 L840.45,557.94 L842.74,559.96 L845.00,562.00 L847.22,564.07 L849.42,566.16 L851.57,568.28 L853.68,570.42 L855.75,572.59 L857.78,574.78 L859.76,577.01 L861.69,579.26 L863.57,581.54 L865.40,583.86 L867.17,586.20 L868.88,588.57 L870.53,590.98 L872.12,593.42 L873.64,595.89 L875.09,598.39 L876.47,600.93 L877.78,603.51 L879.02,606.12 L880.17,608.77 L881.25,611.45 L882.25,614.17 L883.16,616.92 L884.00,619.71 L884.75,622.53 L885.42,625.37 L886.02,628.23 L886.54,631.12 L886.97,634.03 L887.33,636.95 L887.61,639.89 L887.81,642.84 L887.94,645.80 L887.99,648.77 L887.96,651.75 L887.85,654.73 L887.68,657.71 L887.44,660.69 L887.13,663.67 L886.76,666.66 L886.33,669.64 L885.85,672.62 L885.31,675.60 L884.73,678.58 L884.09,681.55 L883.42,684.51 L882.71,687.47 L881.96,690.42 L881.18,693.36 L880.36,696.29 L879.52,699.21 L878.66,702.12 L877.77,705.02 L876.87,707.90 L875.95,710.78 L875.01,713.64 L874.05,716.50 L873.08,719.35 L872.11,722.19 L871.12,725.02 L870.12,727.85 L869.12,730.67 L868.11,733.49 L867.09,736.31 L866.08,739.11 L865.07,741.92 L864.05,744.73 L863.05,747.53 L862.04,750.33 L861.04,753.13 L860.06,755.93 L859.08,758.74 L858.11,761.54 L857.16,764.35 L856.22,767.16 L855.29,769.97 L854.38,772.79 L853.49,775.62 L852.61,778.45 L851.76,781.29 L850.92,784.14 L850.11,786.99 L849.32,789.86 L848.55,792.73 L847.81,795.62 L847.09,798.52 L846.40,801.43 L845.74,804.36 L845.10,807.30" stroke="#120a1c" stroke-width="2.05"/>
<path d="M167.60,20.60 L168.11,23.52 L168.66,26.43 L169.24,29.32 L169.84,32.20 L170.47,35.07 L171.11,37.92 L171.76,40.77 L172.43,43.61 L173.10,46.45 L173.76,49.28 L174.43,52.11 L175.08,54.94 L175.72,57.78 L176.33,60.61 L176.93,63.46 L177.50,66.31 L178.03,69.17 L178.53,72.04 L178.99,74.92 L179.40,77.82 L179.76,80.74 L180.07,83.67 L180.34,86.62 L180.57,89.58 L180.79,92.54 L180.99,95.51 L181.18,98.49 L181.38,101.46 L181.59,104.44 L181.82,107.41 L182.08,110.37 L182.38,113.32 L182.72,116.26 L183.12,119.18 L183.57,122.09 L184.08,124.98 L184.65,127.85 L185.27,130.71 L185.94,133.55 L186.67,136.38 L187.44,139.19 L188.27,141.98 L189.14,144.75 L190.07,147.51 L191.04,150.25 L192.06,152.97 L193.12,155.68 L194.23,158.37 L195.39,161.04 L196.58,163.69 L197.82,166.32 L199.10,168.94 L200.43,171.54 L201.79,174.11 L203.19,176.67 L204.63,179.22 L206.10,181.74 L207.61,184.24 L209.16,186.73 L210.74,189.19 L212.36,191.64 L214.01,194.06 L215.69,196.47 L217.40,198.85 L219.14,201.22 L220.91,203.57 L222.70,205.89 L224.53,208.20 L226.38,210.48 L228.26,212.75 L230.16,214.99 L232.09,217.21 L234.04,219.42 L236.01,221.60 L238.00,223.76 L240.01,225.89 L242.05,228.01 L244.10,230.11 L246.17,232.18 L248.25,234.23 L250.36,236.26 L252.48,238.27 L254.62,240.26 L256.77,242.23 L258.94,244.18 L261.13,246.11 L263.33,248.02 L265.55,249.91 L267.78,251.78 L270.02,253.64 L272.29,255.48 L274.56,257.30 L276.85,259.10 L279.15,260.88 L281.47,262.65 L283.80,264.40 L286.14,266.14 L288.50,267.86 L290.86,269.56 L293.24,271.25 L295.63,272.93 L298.03,274.59 L300.45,276.23 L302.87,277.86 L305.30,279.48 L307.75,281.09 L310.20,282.68 L312.67,284.26 L315.14,285.83 L317.62,287.38 L320.11,288.92 L322.61,290.46 L325.12,291.98 L327.64,293.49 L330.16,294.99 L332.69,296.48 L335.23,297.96 L337.78,299.43 L340.33,300.89 L342.88,302.34 L345.45,303.78 L348.02,305.22 L350.59,306.64 L353.17,308.06 L355.76,309.47 L358.35,310.88 L360.94,312.28 L363.54,313.67 L366.14,315.06 L368.74,316.44 L371.35,317.81 L373.96,319.18 L376.57,320.54 L379.19,321.90 L381.81,323.26 L384.43,324.61 L387.05,325.96 L389.67,327.30 L392.29,328.65 L394.91,329.98 L397.54,331.32 L400.16,332.66 L402.78,333.99 L405.41,335.32 L408.03,336.65 L410.65,337.98 L413.27,339.30 L415.89,340.63 L418.52,341.95 L421.14,343.27 L423.76,344.59 L426.38,345.91 L429.00,347.23 L431.62,348.54 L434.24,349.85 L436.87,351.16 L439.49,352.47 L442.11,353.78 L444.73,355.09 L447.35,356.39 L449.97,357.70 L452.60,359.00 L455.22,360.30 L457.84,361.59 L460.46,362.89 L463.09,364.18 L465.71,365.48 L468.33,366.77 L470.96,368.06 L473.58,369.35 L476.21,370.63 L478.83,371.92 L481.46,373.20 L484.08,374.48 L486.71,375.76 L489.34,377.04 L491.97,378.32 L494.59,379.59 L497.22,380.86 L499.85,382.14 L502.48,383.41 L505.12,384.67 L507.75,385.94 L510.38,387.21 L513.01,388.47 L515.65,389.73 L518.28,390.99 L520.92,392.25 L523.56,393.51 L526.19,394.76 L528.83,396.02 L531.47,397.27 L534.11,398.52 L536.76,399.77 L539.40,401.01 L542.04,402.26 L544.69,403.50 L547.33,404.75 L549.98,405.99 L552.63,407.23 L555.28,408.47 L557.93,409.70 L560.58,410.94 L563.24,412.17 L565.89,413.40 L568.55,414.63 L571.20,415.86 L573.86,417.09 L576.52,418.31 L579.19,419.53 L581.85,420.76 L584.51,421.98 L587.18,423.20 L589.85,424.41 L592.52,425.63 L595.19,426.84 L597.86,428.06 L600.54,429.27 L603.21,430.48 L605.89,431.69 L608.56,432.90 L611.24,434.11 L613.92,435.32 L616.60,436.53 L619.28,437.74 L621.95,438.95 L624.63,440.16 L627.31,441.38 L629.99,442.59 L632.67,443.81 L635.34,445.03 L638.02,446.25 L640.69,447.47 L643.37,448.70 L646.04,449.92 L648.71,451.15 L651.38,452.39 L654.05,453.63 L656.71,454.87 L659.38,456.11 L662.04,457.36 L664.70,458.62 L667.35,459.87 L670.01,461.14 L672.66,462.41 L675.31,463.68 L677.95,464.96 L680.59,466.24 L683.23,467.53 L685.86,468.83 L688.50,470.13 L691.12,471.44 L693.75,472.76 L696.36,474.08 L698.98,475.41 L701.59,476.75 L704.20,478.09 L706.80,479.44 L709.39,480.81 L711.98,482.18 L714.57,483.55 L717.15,484.94 L719.72,486.34 L722.29,487.74 L724.86,489.16 L727.41,490.58 L729.96,492.02 L732.51,493.46 L735.05,494.92 L737.58,496.38 L740.10,497.86 L742.62,499.35 L745.13,500.84 L747.64,502.35 L750.13,503.88 L752.62,505.41 L755.11,506.96 L757.58,508.51 L760.05,510.09 L762.50,511.67 L764.95,513.27 L767.39,514.88 L769.83,516.50 L772.25,518.14 L774.67,519.79 L777.07,521.45 L779.47,523.13 L781.86,524.83 L784.24,526.54 L786.60,528.26 L788.96,530.00 L791.31,531.76 L793.65,533.53 L795.98,535.32 L798.30,537.12 L800.61,538.94 L802.90,540.77 L805.19,542.63 L807.47,544.50 L809.73,546.39 L811.98,548.29 L814.23,550.21 L816.46,552.15 L818.67,554.11 L820.88,556.09 L823.08,558.09 L825.26,560.10 L827.43,562.14 L829.58,564.19 L831.72,566.26 L833.85,568.36 L835.95,570.47 L838.03,572.60 L840.08,574.76 L842.11,576.93 L844.11,579.13 L846.08,581.35 L848.01,583.59 L849.91,585.85 L851.77,588.13 L853.59,590.44 L855.37,592.77 L857.11,595.12 L858.80,597.49 L860.44,599.89 L862.03,602.31 L863.57,604.76 L865.05,607.23 L866.48,609.73 L867.85,612.25 L869.15,614.79 L870.40,617.36 L871.57,619.96 L872.68,622.58 L873.72,625.23 L874.69,627.90 L875.59,630.60 L876.40,633.33 L877.14,636.08 L877.80,638.87 L878.38,641.68 L878.87,644.51 L879.27,647.38 L879.59,650.27 L879.81,653.19 L879.96,656.14 L880.02,659.11 L880.00,662.09 L879.91,665.08 L879.75,668.09 L879.52,671.10 L879.24,674.12 L878.89,677.13 L878.49,680.14 L878.05,683.15 L877.56,686.14 L877.02,689.12 L876.45,692.08 L875.84,695.02 L875.21,697.93 L874.55,700.82 L873.87,703.67 L873.16,706.50 L872.44,709.30 L871.71,712.08 L870.95,714.84 L870.19,717.59 L869.41,720.33 L868.63,723.06 L867.84,725.78 L867.04,728.51 L866.24,731.23 L865.44,733.97 L864.64,736.71 L863.83,739.46 L863.04,742.23 L862.24,745.02 L861.45,747.82 L860.65,750.63 L859.85,753.45 L859.03,756.27 L858.21,759.11 L857.38,761.94 L856.54,764.78 L855.69,767.62 L854.84,770.46 L853.99,773.31 L853.15,776.15 L852.31,778.99 L851.49,781.84 L850.67,784.68 L849.88,787.52 L849.11,790.36 L848.36,793.19 L847.64,796.02 L846.95,798.85 L846.29,801.67 L845.67,804.49 L845.10,807.30" stroke="#42233e" stroke-width="2.05"/>
<path d="M167.60,20.60 L168.59,23.30 L169.54,26.01 L170.44,28.73 L171.30,31.47 L172.12,34.22 L172.89,36.98 L173.63,39.75 L174.34,42.54 L175.01,45.33 L175.66,48.13 L176.27,50.94 L176.86,53.76 L177.43,56.59 L177.97,59.42 L178.50,62.26 L179.01,65.10 L179.51,67.95 L179.99,70.81 L180.46,73.66 L180.93,76.53 L181.39,79.39 L181.85,82.26 L182.30,85.12 L182.76,87.99 L183.23,90.86 L183.71,93.72 L184.20,96.58 L184.71,99.43 L185.24,102.28 L185.80,105.12 L186.38,107.95 L187.00,110.76 L187.65,113.57 L188.33,116.36 L189.06,119.14 L189.84,121.91 L190.65,124.65 L191.50,127.39 L192.40,130.11 L193.33,132.81 L194.30,135.50 L195.32,138.17 L196.36,140.83 L197.45,143.47 L198.57,146.10 L199.73,148.71 L200.93,151.31 L202.16,153.89 L203.42,156.45 L204.72,159.00 L206.05,161.53 L207.42,164.04 L208.82,166.54 L210.25,169.03 L211.70,171.49 L213.20,173.94 L214.72,176.37 L216.27,178.79 L217.84,181.19 L219.45,183.57 L221.09,185.93 L222.75,188.28 L224.44,190.61 L226.15,192.93 L227.89,195.22 L229.65,197.50 L231.44,199.76 L233.26,202.00 L235.09,204.23 L236.95,206.44 L238.83,208.63 L240.73,210.80 L242.66,212.95 L244.60,215.09 L246.56,217.20 L248.54,219.30 L250.55,221.38 L252.56,223.44 L254.60,225.48 L256.65,227.51 L258.72,229.51 L260.81,231.50 L262.91,233.47 L265.03,235.41 L267.16,237.34 L269.30,239.26 L271.46,241.15 L273.64,243.03 L275.83,244.89 L278.03,246.73 L280.24,248.56 L282.47,250.37 L284.71,252.17 L286.96,253.95 L289.23,255.72 L291.50,257.47 L293.79,259.20 L296.09,260.92 L298.40,262.63 L300.72,264.33 L303.06,266.01 L305.40,267.67 L307.75,269.33 L310.11,270.97 L312.48,272.60 L314.86,274.22 L317.25,275.83 L319.65,277.42 L322.06,279.01 L324.47,280.58 L326.89,282.14 L329.32,283.70 L331.76,285.24 L334.20,286.78 L336.65,288.30 L339.11,289.82 L341.57,291.33 L344.04,292.83 L346.52,294.32 L348.99,295.80 L351.48,297.28 L353.97,298.75 L356.46,300.21 L358.96,301.67 L361.46,303.12 L363.97,304.56 L366.48,306.00 L368.99,307.44 L371.50,308.86 L374.02,310.29 L376.54,311.71 L379.06,313.13 L381.58,314.54 L384.11,315.95 L386.63,317.35 L389.16,318.76 L391.69,320.16 L394.21,321.55 L396.74,322.95 L399.27,324.35 L401.80,325.74 L404.32,327.13 L406.85,328.52 L409.37,329.91 L411.90,331.30 L414.42,332.69 L416.95,334.07 L419.47,335.46 L421.99,336.84 L424.52,338.22 L427.04,339.60 L429.56,340.98 L432.09,342.36 L434.61,343.74 L437.13,345.11 L439.66,346.49 L442.18,347.86 L444.70,349.23 L447.23,350.60 L449.75,351.97 L452.27,353.34 L454.80,354.70 L457.32,356.06 L459.85,357.43 L462.37,358.79 L464.90,360.14 L467.42,361.50 L469.95,362.86 L472.48,364.21 L475.01,365.56 L477.54,366.91 L480.07,368.26 L482.60,369.61 L485.13,370.95 L487.66,372.30 L490.19,373.64 L492.73,374.98 L495.26,376.31 L497.80,377.65 L500.34,378.99 L502.88,380.32 L505.42,381.65 L507.96,382.98 L510.50,384.30 L513.04,385.63 L515.59,386.95 L518.13,388.27 L520.68,389.59 L523.23,390.91 L525.78,392.22 L528.34,393.53 L530.89,394.85 L533.45,396.15 L536.00,397.46 L538.56,398.77 L541.12,400.07 L543.69,401.37 L546.25,402.67 L548.82,403.96 L551.39,405.25 L553.96,406.55 L556.53,407.84 L559.11,409.12 L561.69,410.41 L564.27,411.69 L566.85,412.97 L569.43,414.25 L572.01,415.53 L574.60,416.80 L577.19,418.08 L579.78,419.35 L582.37,420.62 L584.96,421.90 L587.55,423.17 L590.14,424.44 L592.74,425.71 L595.33,426.98 L597.92,428.25 L600.52,429.53 L603.11,430.80 L605.71,432.07 L608.30,433.35 L610.90,434.62 L613.49,435.90 L616.08,437.18 L618.67,438.46 L621.26,439.74 L623.85,441.02 L626.44,442.31 L629.03,443.60 L631.62,444.89 L634.20,446.18 L636.79,447.48 L639.37,448.78 L641.95,450.08 L644.53,451.39 L647.10,452.70 L649.68,454.01 L652.25,455.33 L654.81,456.65 L657.38,457.98 L659.94,459.31 L662.50,460.64 L665.06,461.98 L667.61,463.33 L670.17,464.68 L672.71,466.03 L675.26,467.40 L677.80,468.76 L680.33,470.14 L682.86,471.51 L685.39,472.90 L687.91,474.29 L690.43,475.69 L692.95,477.10 L695.46,478.51 L697.96,479.93 L700.46,481.35 L702.96,482.79 L705.45,484.23 L707.93,485.68 L710.41,487.14 L712.89,488.60 L715.36,490.08 L717.82,491.56 L720.28,493.05 L722.73,494.55 L725.17,496.06 L727.61,497.58 L730.04,499.11 L732.47,500.65 L734.88,502.20 L737.30,503.75 L739.70,505.32 L742.10,506.90 L744.49,508.49 L746.87,510.09 L749.25,511.70 L751.61,513.32 L753.97,514.95 L756.32,516.60 L758.67,518.25 L761.00,519.92 L763.33,521.60 L765.65,523.29 L767.96,525.00 L770.26,526.71 L772.56,528.44 L774.84,530.18 L777.12,531.94 L779.38,533.71 L781.64,535.49 L783.89,537.28 L786.12,539.09 L788.35,540.92 L790.57,542.75 L792.78,544.60 L794.97,546.47 L797.16,548.35 L799.34,550.24 L801.51,552.15 L803.66,554.08 L805.81,556.02 L807.94,557.98 L810.06,559.95 L812.18,561.94 L814.28,563.94 L816.37,565.96 L818.44,567.99 L820.51,570.05 L822.56,572.12 L824.60,574.20 L826.63,576.31 L828.63,578.43 L830.61,580.57 L832.57,582.72 L834.51,584.90 L836.42,587.09 L838.30,589.31 L840.15,591.54 L841.97,593.79 L843.75,596.06 L845.50,598.36 L847.21,600.67 L848.88,603.00 L850.51,605.35 L852.09,607.73 L853.63,610.12 L855.12,612.54 L856.56,614.98 L857.95,617.44 L859.28,619.93 L860.56,622.43 L861.78,624.96 L862.93,627.52 L864.03,630.09 L865.07,632.69 L866.04,635.32 L866.94,637.96 L867.77,640.64 L868.53,643.34 L869.21,646.06 L869.82,648.81 L870.35,651.58 L870.81,654.38 L871.20,657.20 L871.51,660.04 L871.75,662.90 L871.93,665.77 L872.04,668.67 L872.10,671.57 L872.09,674.49 L872.03,677.41 L871.92,680.34 L871.75,683.28 L871.53,686.23 L871.27,689.17 L870.97,692.12 L870.62,695.06 L870.23,698.00 L869.81,700.93 L869.36,703.86 L868.87,706.78 L868.35,709.69 L867.81,712.58 L867.24,715.47 L866.65,718.33 L866.05,721.18 L865.42,724.01 L864.77,726.83 L864.12,729.64 L863.44,732.43 L862.76,735.21 L862.06,737.98 L861.35,740.75 L860.64,743.50 L859.91,746.25 L859.19,749.00 L858.45,751.74 L857.72,754.47 L856.98,757.21 L856.25,759.94 L855.51,762.67 L854.78,765.41 L854.05,768.14 L853.33,770.88 L852.61,773.63 L851.91,776.38 L851.21,779.13 L850.52,781.90 L849.85,784.67 L849.19,787.45 L848.55,790.25 L847.93,793.05 L847.32,795.87 L846.73,798.70 L846.16,801.55 L845.62,804.42 L845.10,807.30" stroke="#6b1846" stroke-width="2.05"/>
<path d="M167.60,20.60 L168.61,23.22 L169.58,25.85 L170.52,28.50 L171.43,31.17 L172.30,33.85 L173.15,36.54 L173.98,39.24 L174.78,41.96 L175.55,44.68 L176.31,47.42 L177.05,50.16 L177.77,52.92 L178.48,55.67 L179.18,58.44 L179.87,61.21 L180.55,63.98 L181.23,66.75 L181.90,69.53 L182.57,72.31 L183.24,75.09 L183.91,77.87 L184.59,80.64 L185.28,83.42 L185.97,86.19 L186.68,88.96 L187.40,91.72 L188.13,94.47 L188.88,97.22 L189.65,99.96 L190.44,102.69 L191.25,105.41 L192.09,108.12 L192.95,110.82 L193.85,113.50 L194.78,116.18 L195.74,118.83 L196.73,121.48 L197.75,124.11 L198.81,126.72 L199.90,129.32 L201.02,131.90 L202.17,134.47 L203.36,137.03 L204.57,139.57 L205.81,142.09 L207.09,144.60 L208.39,147.10 L209.72,149.58 L211.08,152.05 L212.46,154.50 L213.88,156.94 L215.32,159.36 L216.78,161.76 L218.27,164.15 L219.79,166.53 L221.34,168.89 L222.90,171.24 L224.50,173.57 L226.11,175.89 L227.75,178.19 L229.42,180.47 L231.10,182.74 L232.81,185.00 L234.54,187.24 L236.29,189.46 L238.06,191.67 L239.85,193.87 L241.66,196.05 L243.50,198.21 L245.35,200.36 L247.22,202.49 L249.10,204.61 L251.01,206.71 L252.93,208.80 L254.87,210.87 L256.83,212.92 L258.81,214.96 L260.79,216.99 L262.80,219.00 L264.82,220.99 L266.85,222.97 L268.90,224.93 L270.96,226.88 L273.04,228.81 L275.13,230.73 L277.23,232.63 L279.34,234.51 L281.47,236.38 L283.61,238.24 L285.76,240.08 L287.92,241.91 L290.09,243.73 L292.28,245.53 L294.48,247.32 L296.68,249.09 L298.90,250.86 L301.13,252.61 L303.36,254.35 L305.61,256.07 L307.87,257.79 L310.14,259.49 L312.41,261.18 L314.70,262.87 L316.99,264.54 L319.29,266.20 L321.60,267.85 L323.92,269.49 L326.24,271.12 L328.58,272.74 L330.92,274.35 L333.26,275.95 L335.62,277.54 L337.98,279.13 L340.35,280.71 L342.72,282.27 L345.10,283.84 L347.48,285.39 L349.87,286.93 L352.27,288.47 L354.67,290.00 L357.07,291.53 L359.48,293.05 L361.89,294.56 L364.31,296.07 L366.73,297.57 L369.15,299.06 L371.58,300.55 L374.01,302.04 L376.44,303.52 L378.88,304.99 L381.32,306.47 L383.76,307.93 L386.20,309.40 L388.64,310.86 L391.09,312.32 L393.53,313.77 L395.98,315.22 L398.43,316.67 L400.87,318.12 L403.32,319.56 L405.77,321.00 L408.22,322.44 L410.67,323.88 L413.12,325.32 L415.57,326.75 L418.02,328.18 L420.47,329.61 L422.92,331.04 L425.37,332.47 L427.82,333.89 L430.27,335.31 L432.72,336.73 L435.18,338.15 L437.63,339.57 L440.08,340.98 L442.53,342.40 L444.99,343.81 L447.44,345.22 L449.90,346.63 L452.35,348.03 L454.81,349.44 L457.26,350.84 L459.72,352.24 L462.18,353.64 L464.64,355.04 L467.09,356.44 L469.55,357.83 L472.01,359.23 L474.47,360.62 L476.93,362.01 L479.39,363.40 L481.85,364.79 L484.32,366.18 L486.78,367.56 L489.24,368.95 L491.71,370.33 L494.17,371.72 L496.64,373.10 L499.10,374.48 L501.57,375.86 L504.04,377.23 L506.50,378.61 L508.97,379.98 L511.44,381.36 L513.91,382.73 L516.38,384.11 L518.85,385.48 L521.33,386.85 L523.80,388.22 L526.27,389.59 L528.75,390.95 L531.22,392.32 L533.70,393.69 L536.18,395.05 L538.65,396.42 L541.13,397.78 L543.61,399.14 L546.09,400.50 L548.57,401.87 L551.06,403.23 L553.54,404.59 L556.02,405.95 L558.51,407.31 L560.99,408.67 L563.48,410.02 L565.97,411.38 L568.45,412.74 L570.94,414.10 L573.43,415.45 L575.93,416.81 L578.42,418.16 L580.91,419.52 L583.41,420.87 L585.90,422.23 L588.40,423.58 L590.89,424.94 L593.39,426.29 L595.89,427.64 L598.39,429.00 L600.89,430.35 L603.39,431.70 L605.90,433.06 L608.40,434.41 L610.90,435.77 L613.40,437.13 L615.90,438.49 L618.41,439.85 L620.91,441.21 L623.41,442.57 L625.91,443.94 L628.41,445.30 L630.91,446.67 L633.40,448.04 L635.90,449.42 L638.39,450.79 L640.89,452.17 L643.38,453.56 L645.87,454.94 L648.35,456.33 L650.84,457.72 L653.32,459.12 L655.80,460.52 L658.28,461.92 L660.76,463.33 L663.23,464.74 L665.70,466.16 L668.17,467.58 L670.63,469.00 L673.09,470.43 L675.55,471.87 L678.00,473.31 L680.45,474.75 L682.89,476.21 L685.33,477.66 L687.77,479.13 L690.20,480.60 L692.63,482.07 L695.06,483.55 L697.48,485.04 L699.89,486.54 L702.30,488.04 L704.70,489.55 L707.10,491.06 L709.49,492.59 L711.88,494.12 L714.26,495.66 L716.64,497.20 L719.01,498.76 L721.37,500.32 L723.73,501.89 L726.08,503.47 L728.43,505.06 L730.76,506.66 L733.10,508.26 L735.42,509.88 L737.74,511.50 L740.05,513.13 L742.35,514.78 L744.64,516.43 L746.93,518.09 L749.21,519.77 L751.48,521.45 L753.74,523.14 L756.00,524.85 L758.25,526.56 L760.48,528.29 L762.71,530.02 L764.93,531.77 L767.15,533.53 L769.35,535.30 L771.54,537.08 L773.73,538.88 L775.90,540.69 L778.07,542.50 L780.22,544.34 L782.37,546.18 L784.50,548.04 L786.63,549.90 L788.74,551.79 L790.85,553.68 L792.94,555.59 L795.03,557.51 L797.10,559.45 L799.16,561.40 L801.21,563.36 L803.25,565.34 L805.28,567.33 L807.29,569.34 L809.30,571.36 L811.29,573.39 L813.27,575.45 L815.24,577.51 L817.19,579.59 L819.14,581.69 L821.07,583.80 L822.98,585.93 L824.87,588.08 L826.75,590.24 L828.60,592.42 L830.43,594.62 L832.23,596.84 L834.00,599.07 L835.74,601.33 L837.45,603.60 L839.12,605.90 L840.75,608.22 L842.35,610.56 L843.91,612.92 L845.42,615.30 L846.89,617.70 L848.31,620.13 L849.68,622.58 L851.00,625.06 L852.27,627.56 L853.48,630.08 L854.64,632.64 L855.74,635.21 L856.78,637.81 L857.76,640.43 L858.68,643.06 L859.54,645.72 L860.35,648.39 L861.09,651.08 L861.77,653.79 L862.40,656.50 L862.96,659.23 L863.46,661.97 L863.90,664.72 L864.29,667.48 L864.62,670.24 L864.89,673.02 L865.11,675.80 L865.27,678.59 L865.39,681.38 L865.46,684.19 L865.48,687.00 L865.46,689.81 L865.39,692.63 L865.28,695.46 L865.13,698.28 L864.94,701.12 L864.72,703.95 L864.45,706.79 L864.16,709.64 L863.83,712.48 L863.48,715.32 L863.09,718.17 L862.67,721.02 L862.23,723.87 L861.77,726.72 L861.28,729.56 L860.78,732.41 L860.25,735.26 L859.70,738.10 L859.14,740.94 L858.57,743.78 L857.98,746.61 L857.38,749.44 L856.77,752.27 L856.16,755.10 L855.53,757.91 L854.91,760.73 L854.28,763.53 L853.65,766.33 L853.01,769.13 L852.38,771.91 L851.76,774.69 L851.14,777.47 L850.52,780.23 L849.91,782.98 L849.32,785.73 L848.73,788.46 L848.16,791.19 L847.60,793.90 L847.06,796.61 L846.54,799.30 L846.04,801.98 L845.56,804.64 L845.10,807.30" stroke="#9c1048" stroke-width="2.05"/>
<path d="M167.60,20.60 L168.62,23.19 L169.61,25.80 L170.59,28.41 L171.55,31.03 L172.50,33.65 L173.43,36.29 L174.35,38.92 L175.25,41.57 L176.14,44.22 L177.03,46.87 L177.91,49.53 L178.78,52.19 L179.64,54.85 L180.50,57.51 L181.36,60.18 L182.21,62.85 L183.06,65.52 L183.92,68.19 L184.78,70.86 L185.64,73.53 L186.50,76.19 L187.37,78.86 L188.25,81.52 L189.14,84.18 L190.04,86.83 L190.94,89.49 L191.86,92.13 L192.80,94.77 L193.75,97.41 L194.71,100.04 L195.69,102.66 L196.70,105.28 L197.72,107.89 L198.76,110.49 L199.83,113.08 L200.92,115.66 L202.03,118.23 L203.17,120.79 L204.34,123.35 L205.53,125.89 L206.74,128.41 L207.98,130.93 L209.25,133.44 L210.53,135.93 L211.84,138.41 L213.18,140.88 L214.54,143.34 L215.92,145.78 L217.32,148.21 L218.75,150.63 L220.19,153.03 L221.67,155.42 L223.16,157.79 L224.67,160.15 L226.21,162.50 L227.76,164.82 L229.34,167.14 L230.93,169.43 L232.55,171.71 L234.19,173.97 L235.85,176.22 L237.52,178.45 L239.22,180.66 L240.93,182.85 L242.67,185.03 L244.42,187.19 L246.19,189.33 L247.98,191.46 L249.78,193.57 L251.61,195.66 L253.45,197.74 L255.31,199.80 L257.18,201.85 L259.07,203.88 L260.98,205.89 L262.90,207.89 L264.84,209.88 L266.79,211.85 L268.76,213.81 L270.75,215.75 L272.75,217.68 L274.76,219.59 L276.78,221.49 L278.83,223.38 L280.88,225.26 L282.95,227.12 L285.03,228.97 L287.12,230.81 L289.22,232.63 L291.34,234.44 L293.47,236.24 L295.61,238.03 L297.76,239.81 L299.93,241.58 L302.10,243.34 L304.29,245.08 L306.48,246.82 L308.69,248.54 L310.90,250.26 L313.13,251.96 L315.36,253.66 L317.60,255.34 L319.86,257.02 L322.12,258.69 L324.38,260.35 L326.66,262.00 L328.94,263.64 L331.24,265.27 L333.53,266.90 L335.84,268.52 L338.15,270.13 L340.47,271.73 L342.79,273.33 L345.12,274.92 L347.46,276.50 L349.80,278.08 L352.15,279.65 L354.50,281.21 L356.85,282.77 L359.21,284.32 L361.58,285.87 L363.94,287.41 L366.31,288.95 L368.69,290.48 L371.07,292.01 L373.45,293.54 L375.83,295.06 L378.21,296.57 L380.60,298.09 L382.98,299.59 L385.37,301.10 L387.76,302.60 L390.15,304.10 L392.55,305.60 L394.94,307.10 L397.33,308.59 L399.72,310.08 L402.11,311.57 L404.50,313.06 L406.89,314.54 L409.28,316.03 L411.67,317.51 L414.06,318.99 L416.44,320.47 L418.83,321.95 L421.22,323.43 L423.61,324.90 L425.99,326.38 L428.38,327.85 L430.76,329.32 L433.15,330.79 L435.53,332.26 L437.92,333.72 L440.30,335.19 L442.69,336.65 L445.07,338.11 L447.46,339.57 L449.84,341.03 L452.22,342.49 L454.61,343.95 L456.99,345.40 L459.38,346.86 L461.76,348.31 L464.15,349.76 L466.53,351.21 L468.91,352.66 L471.30,354.11 L473.68,355.56 L476.07,357.01 L478.45,358.45 L480.84,359.90 L483.22,361.34 L485.61,362.78 L487.99,364.22 L490.38,365.66 L492.77,367.10 L495.15,368.54 L497.54,369.97 L499.93,371.41 L502.32,372.84 L504.70,374.28 L507.09,375.71 L509.48,377.14 L511.87,378.58 L514.26,380.01 L516.65,381.44 L519.05,382.86 L521.44,384.29 L523.83,385.72 L526.22,387.15 L528.62,388.57 L531.01,390.00 L533.41,391.42 L535.81,392.84 L538.20,394.27 L540.60,395.69 L543.00,397.11 L545.40,398.53 L547.80,399.95 L550.20,401.37 L552.61,402.79 L555.01,404.21 L557.41,405.63 L559.82,407.05 L562.23,408.46 L564.63,409.88 L567.04,411.30 L569.45,412.71 L571.86,414.13 L574.27,415.54 L576.69,416.96 L579.10,418.37 L581.52,419.78 L583.93,421.20 L586.35,422.61 L588.77,424.02 L591.19,425.43 L593.61,426.85 L596.04,428.26 L598.46,429.67 L600.89,431.08 L603.31,432.50 L605.74,433.91 L608.16,435.32 L610.59,436.74 L613.02,438.15 L615.45,439.57 L617.88,440.99 L620.30,442.41 L622.73,443.83 L625.16,445.25 L627.58,446.67 L630.01,448.10 L632.43,449.53 L634.85,450.96 L637.27,452.39 L639.69,453.83 L642.11,455.27 L644.53,456.71 L646.95,458.15 L649.36,459.60 L651.77,461.05 L654.18,462.51 L656.58,463.97 L658.99,465.43 L661.39,466.90 L663.79,468.37 L666.18,469.85 L668.58,471.33 L670.96,472.81 L673.35,474.30 L675.73,475.79 L678.11,477.29 L680.48,478.80 L682.85,480.31 L685.22,481.83 L687.58,483.35 L689.94,484.87 L692.29,486.41 L694.64,487.95 L696.98,489.49 L699.32,491.05 L701.65,492.61 L703.98,494.17 L706.30,495.75 L708.62,497.33 L710.93,498.92 L713.24,500.51 L715.54,502.11 L717.83,503.72 L720.12,505.34 L722.40,506.97 L724.67,508.61 L726.94,510.25 L729.20,511.90 L731.45,513.56 L733.69,515.23 L735.93,516.91 L738.16,518.60 L740.39,520.29 L742.60,522.00 L744.81,523.72 L747.01,525.44 L749.20,527.18 L751.38,528.92 L753.56,530.68 L755.72,532.45 L757.88,534.23 L760.03,536.01 L762.17,537.81 L764.30,539.62 L766.42,541.44 L768.53,543.28 L770.63,545.12 L772.72,546.97 L774.80,548.84 L776.87,550.72 L778.93,552.61 L780.98,554.52 L783.02,556.43 L785.05,558.36 L787.07,560.30 L789.08,562.26 L791.08,564.22 L793.06,566.21 L795.03,568.20 L797.00,570.21 L798.95,572.23 L800.89,574.26 L802.81,576.31 L804.73,578.38 L806.63,580.45 L808.52,582.54 L810.40,584.65 L812.26,586.77 L814.10,588.91 L815.93,591.06 L817.73,593.23 L819.52,595.41 L821.28,597.60 L823.02,599.82 L824.74,602.04 L826.43,604.29 L828.10,606.55 L829.73,608.82 L831.34,611.11 L832.92,613.42 L834.46,615.75 L835.97,618.09 L837.45,620.45 L838.89,622.82 L840.30,625.21 L841.67,627.62 L842.99,630.05 L844.28,632.49 L845.52,634.95 L846.72,637.43 L847.88,639.93 L848.99,642.44 L850.05,644.98 L851.07,647.53 L852.03,650.10 L852.95,652.68 L853.81,655.29 L854.62,657.92 L855.37,660.56 L856.07,663.22 L856.72,665.90 L857.31,668.60 L857.85,671.31 L858.33,674.04 L858.77,676.78 L859.16,679.53 L859.49,682.30 L859.78,685.07 L860.02,687.86 L860.22,690.65 L860.37,693.46 L860.48,696.26 L860.54,699.08 L860.56,701.90 L860.53,704.72 L860.47,707.54 L860.37,710.37 L860.22,713.20 L860.04,716.02 L859.82,718.85 L859.57,721.67 L859.28,724.49 L858.96,727.31 L858.62,730.13 L858.24,732.95 L857.84,735.76 L857.42,738.57 L856.97,741.38 L856.51,744.18 L856.02,746.98 L855.53,749.78 L855.02,752.57 L854.49,755.36 L853.96,758.14 L853.42,760.92 L852.88,763.70 L852.33,766.47 L851.79,769.24 L851.24,772.00 L850.69,774.75 L850.15,777.50 L849.62,780.24 L849.10,782.98 L848.58,785.71 L848.08,788.43 L847.59,791.15 L847.12,793.86 L846.67,796.56 L846.24,799.26 L845.84,801.95 L845.45,804.63 L845.10,807.30" stroke="#5c14a6" stroke-width="2.05"/>
</g>
<path d="M167.57,807.80V776.60M167.57,20.30V51.50M235.32,807.80V776.60M235.32,20.30V51.50M303.07,807.80V776.60M303.07,20.30V51.50M370.82,807.80V776.60M370.82,20.30V51.50M438.57,807.80V776.60M438.57,20.30V51.50M506.32,807.80V776.60M506.32,20.30V51.50M574.07,807.80V776.60M574.07,20.30V51.50M641.82,807.80V776.60M641.82,20.30V51.50M709.57,807.80V776.60M709.57,20.30V51.50M777.32,807.80V776.60M777.32,20.30V51.50M845.07,807.80V776.60M845.07,20.30V51.50M912.82,807.80V776.60M912.82,20.30V51.50M140.47,807.80V793.80M140.47,20.30V34.30M154.02,807.80V793.80M154.02,20.30V34.30M181.12,807.80V793.80M181.12,20.30V34.30M194.67,807.80V793.80M194.67,20.30V34.30M208.22,807.80V793.80M208.22,20.30V34.30M221.77,807.80V793.80M221.77,20.30V34.30M248.87,807.80V793.80M248.87,20.30V34.30M262.42,807.80V793.80M262.42,20.30V34.30M275.97,807.80V793.80M275.97,20.30V34.30M289.52,807.80V793.80M289.52,20.30V34.30M316.62,807.80V793.80M316.62,20.30V34.30M330.17,807.80V793.80M330.17,20.30V34.30M343.72,807.80V793.80M343.72,20.30V34.30M357.27,807.80V793.80M357.27,20.30V34.30M384.37,807.80V793.80M384.37,20.30V34.30M397.92,807.80V793.80M397.92,20.30V34.30M411.47,807.80V793.80M411.47,20.30V34.30M425.02,807.80V793.80M425.02,20.30V34.30M452.12,807.80V793.80M452.12,20.30V34.30M465.67,807.80V793.80M465.67,20.30V34.30M479.22,807.80V793.80M479.22,20.30V34.30M492.77,807.80V793.80M492.77,20.30V34.30M519.87,807.80V793.80M519.87,20.30V34.30M533.42,807.80V793.80M533.42,20.30V34.30M546.97,807.80V793.80M546.97,20.30V34.30M560.52,807.80V793.80M560.52,20.30V34.30M587.62,807.80V793.80M587.62,20.30V34.30M601.17,807.80V793.80M601.17,20.30V34.30M614.72,807.80V793.80M614.72,20.30V34.30M628.27,807.80V793.80M628.27,20.30V34.30M655.37,807.80V793.80M655.37,20.30V34.30M668.92,807.80V793.80M668.92,20.30V34.30M682.47,807.80V793.80M682.47,20.30V34.30M696.02,807.80V793.80M696.02,20.30V34.30M723.12,807.80V793.80M723.12,20.30V34.30M736.67,807.80V793.80M736.67,20.30V34.30M750.22,807.80V793.80M750.22,20.30V34.30M763.77,807.80V793.80M763.77,20.30V34.30M790.87,807.80V793.80M790.87,20.30V34.30M804.42,807.80V793.80M804.42,20.30V34.30M817.97,807.80V793.80M817.97,20.30V34.30M831.52,807.80V793.80M831.52,20.30V34.30M858.62,807.80V793.80M858.62,20.30V34.30M872.17,807.80V793.80M872.17,20.30V34.30M885.72,807.80V793.80M885.72,20.30V34.30M899.27,807.80V793.80M899.27,20.30V34.30M134.20,807.90H165.40M926.40,807.90H895.20M134.20,742.27H165.40M926.40,742.27H895.20M134.20,676.65H165.40M926.40,676.65H895.20M134.20,611.02H165.40M926.40,611.02H895.20M134.20,545.40H165.40M926.40,545.40H895.20M134.20,479.77H165.40M926.40,479.77H895.20M134.20,414.15H165.40M926.40,414.15H895.20M134.20,348.52H165.40M926.40,348.52H895.20M134.20,282.90H165.40M926.40,282.90H895.20M134.20,217.27H165.40M926.40,217.27H895.20M134.20,151.65H165.40M926.40,151.65H895.20M134.20,86.02H165.40M926.40,86.02H895.20M134.20,20.40H165.40M926.40,20.40H895.20M134.20,794.77H148.20M926.40,794.77H912.40M134.20,781.65H148.20M926.40,781.65H912.40M134.20,768.52H148.20M926.40,768.52H912.40M134.20,755.40H148.20M926.40,755.40H912.40M134.20,729.15H148.20M926.40,729.15H912.40M134.20,716.02H148.20M926.40,716.02H912.40M134.20,702.90H148.20M926.40,702.90H912.40M134.20,689.77H148.20M926.40,689.77H912.40M134.20,663.52H148.20M926.40,663.52H912.40M134.20,650.40H148.20M926.40,650.40H912.40M134.20,637.27H148.20M926.40,637.27H912.40M134.20,624.15H148.20M926.40,624.15H912.40M134.20,597.90H148.20M926.40,597.90H912.40M134.20,584.77H148.20M926.40,584.77H912.40M134.20,571.65H148.20M926.40,571.65H912.40M134.20,558.52H148.20M926.40,558.52H912.40M134.20,532.27H148.20M926.40,532.27H912.40M134.20,519.15H148.20M926.40,519.15H912.40M134.20,506.02H148.20M926.40,506.02H912.40M134.20,492.90H148.20M926.40,492.90H912.40M134.20,466.65H148.20M926.40,466.65H912.40M134.20,453.52H148.20M926.40,453.52H912.40M134.20,440.40H148.20M926.40,440.40H912.40M134.20,427.27H148.20M926.40,427.27H912.40M134.20,401.02H148.20M926.40,401.02H912.40M134.20,387.90H148.20M926.40,387.90H912.40M134.20,374.77H148.20M926.40,374.77H912.40M134.20,361.65H148.20M926.40,361.65H912.40M134.20,335.40H148.20M926.40,335.40H912.40M134.20,322.27H148.20M926.40,322.27H912.40M134.20,309.15H148.20M926.40,309.15H912.40M134.20,296.02H148.20M926.40,296.02H912.40M134.20,269.77H148.20M926.40,269.77H912.40M134.20,256.65H148.20M926.40,256.65H912.40M134.20,243.52H148.20M926.40,243.52H912.40M134.20,230.40H148.20M926.40,230.40H912.40M134.20,204.15H148.20M926.40,204.15H912.40M134.20,191.02H148.20M926.40,191.02H912.40M134.20,177.90H148.20M926.40,177.90H912.40M134.20,164.77H148.20M926.40,164.77H912.40M134.20,138.52H148.20M926.40,138.52H912.40M134.20,125.40H148.20M926.40,125.40H912.40M134.20,112.27H148.20M926.40,112.27H912.40M134.20,99.15H148.20M926.40,99.15H912.40M134.20,72.90H148.20M926.40,72.90H912.40M134.20,59.77H148.20M926.40,59.77H912.40M134.20,46.65H148.20M926.40,46.65H912.40M134.20,33.52H148.20M926.40,33.52H912.40" stroke="#000" stroke-width="2.0" fill="none"/>
<rect x="134.2" y="20.3" width="792.20" height="787.50" fill="none" stroke="#000" stroke-width="2.2"/>
<text transform="translate(74.74,819.80) scale(1.0321,1)" style="font-family:'Liberation Sans', sans-serif;font-size:33.55px;" fill="#000" stroke="#000">3.0</text>
<text transform="translate(48.69,821.99) scale(1.1066,1)" style="font-family:'Liberation Sans', sans-serif;font-size:36.56px;" fill="#000" stroke="#000">−</text>
<text transform="translate(74.22,754.17) scale(1.0311,1)" style="font-family:'Liberation Sans', sans-serif;font-size:33.55px;" fill="#000" stroke="#000">2.5</text>
<text transform="translate(48.69,756.37) scale(1.1066,1)" style="font-family:'Liberation Sans', sans-serif;font-size:36.56px;" fill="#000" stroke="#000">−</text>
<text transform="translate(74.20,688.55) scale(1.0439,1)" style="font-family:'Liberation Sans', sans-serif;font-size:33.55px;" fill="#000" stroke="#000">2.0</text>
<text transform="translate(48.69,690.74) scale(1.1066,1)" style="font-family:'Liberation Sans', sans-serif;font-size:36.56px;" fill="#000" stroke="#000">−</text>
<text transform="translate(74.49,622.92) scale(1.0103,1)" style="font-family:'Liberation Sans', sans-serif;font-size:34.04px;" fill="#000" stroke="#000">1.5</text>
<text transform="translate(48.69,625.12) scale(1.1066,1)" style="font-family:'Liberation Sans', sans-serif;font-size:36.56px;" fill="#000" stroke="#000">−</text>
<text transform="translate(74.46,557.30) scale(1.0382,1)" style="font-family:'Liberation Sans', sans-serif;font-size:33.55px;" fill="#000" stroke="#000">1.0</text>
<text transform="translate(48.69,559.49) scale(1.1066,1)" style="font-family:'Liberation Sans', sans-serif;font-size:36.56px;" fill="#000" stroke="#000">−</text>
<text transform="translate(74.39,491.67) scale(1.0275,1)" style="font-family:'Liberation Sans', sans-serif;font-size:33.55px;" fill="#000" stroke="#000">0.5</text>
<text transform="translate(48.69,493.87) scale(1.1066,1)" style="font-family:'Liberation Sans', sans-serif;font-size:36.56px;" fill="#000" stroke="#000">−</text>
<text transform="translate(74.37,426.05) scale(1.0402,1)" style="font-family:'Liberation Sans', sans-serif;font-size:33.55px;" fill="#000" stroke="#000">0.0</text>
<text transform="translate(74.39,360.42) scale(1.0275,1)" style="font-family:'Liberation Sans', sans-serif;font-size:33.55px;" fill="#000" stroke="#000">0.5</text>
<text transform="translate(74.46,294.80) scale(1.0382,1)" style="font-family:'Liberation Sans', sans-serif;font-size:33.55px;" fill="#000" stroke="#000">1.0</text>
<text transform="translate(74.49,229.17) scale(1.0103,1)" style="font-family:'Liberation Sans', sans-serif;font-size:34.04px;" fill="#000" stroke="#000">1.5</text>
<text transform="translate(74.20,163.55) scale(1.0439,1)" style="font-family:'Liberation Sans', sans-serif;font-size:33.55px;" fill="#000" stroke="#000">2.0</text>
<text transform="translate(74.22,97.92) scale(1.0311,1)" style="font-family:'Liberation Sans', sans-serif;font-size:33.55px;" fill="#000" stroke="#000">2.5</text>
<text transform="translate(74.74,32.30) scale(1.0321,1)" style="font-family:'Liberation Sans', sans-serif;font-size:33.55px;" fill="#000" stroke="#000">3.0</text>
<text transform="translate(143.31,841.72) scale(1.0402,1)" style="font-family:'Liberation Sans', sans-serif;font-size:33.55px;" fill="#000" stroke="#000">0.0</text>
<text transform="translate(211.07,841.72) scale(1.0294,1)" style="font-family:'Liberation Sans', sans-serif;font-size:33.55px;" fill="#000" stroke="#000">0.1</text>
<text transform="translate(278.83,841.72) scale(1.0249,1)" style="font-family:'Liberation Sans', sans-serif;font-size:33.55px;" fill="#000" stroke="#000">0.2</text>
<text transform="translate(346.57,841.72) scale(1.0343,1)" style="font-family:'Liberation Sans', sans-serif;font-size:33.55px;" fill="#000" stroke="#000">0.3</text>
<text transform="translate(414.31,841.72) scale(1.0398,1)" style="font-family:'Liberation Sans', sans-serif;font-size:33.55px;" fill="#000" stroke="#000">0.4</text>
<text transform="translate(482.08,841.72) scale(1.0275,1)" style="font-family:'Liberation Sans', sans-serif;font-size:33.55px;" fill="#000" stroke="#000">0.5</text>
<text transform="translate(549.80,841.72) scale(1.0465,1)" style="font-family:'Liberation Sans', sans-serif;font-size:33.55px;" fill="#000" stroke="#000">0.6</text>
<text transform="translate(617.56,841.72) scale(1.0355,1)" style="font-family:'Liberation Sans', sans-serif;font-size:33.55px;" fill="#000" stroke="#000">0.7</text>
<text transform="translate(685.31,841.72) scale(1.0423,1)" style="font-family:'Liberation Sans', sans-serif;font-size:33.55px;" fill="#000" stroke="#000">0.8</text>
<text transform="translate(753.05,841.72) scale(1.0440,1)" style="font-family:'Liberation Sans', sans-serif;font-size:33.55px;" fill="#000" stroke="#000">0.9</text>
<text transform="translate(820.90,841.72) scale(1.0382,1)" style="font-family:'Liberation Sans', sans-serif;font-size:33.55px;" fill="#000" stroke="#000">1.0</text>
<text transform="translate(888.68,842.05) scale(0.9980,1)" style="font-family:'Liberation Sans', sans-serif;font-size:34.52px;" fill="#000" stroke="#000">1.1</text>
<text transform="translate(3.49,409.63) scale(1.0514,1)" style="font-family:'Liberation Sans', sans-serif;font-size:29.26px;font-style:italic;" fill="#000" stroke="#000">η</text>
<text transform="translate(501.63,891.50) scale(1.0517,1)" style="font-family:'Liberation Sans', sans-serif;font-size:30.23px;font-style:italic;" fill="#000" stroke="#000">θ</text>
<text transform="translate(520.44,889.83) scale(0.7992,1)" style="font-family:'Liberation Sans', sans-serif;font-size:27.37px;" fill="#000" stroke="#000">(</text>
<text transform="translate(531.30,891.93) scale(1.0854,1)" style="font-family:'Liberation Sans', sans-serif;font-size:27.78px;font-style:italic;" fill="#000" stroke="#000">η</text>
<text transform="translate(550.76,889.83) scale(0.8819,1)" style="font-family:'Liberation Sans', sans-serif;font-size:27.37px;" fill="#000" stroke="#000">)</text>
<path d="M526.0,860.4 L521.4,866.0" stroke="#000" stroke-width="1.9" stroke-linecap="round"/>
<path d="M743.3,57.50H802" stroke="#120a1c" stroke-width="2"/>
<text transform="translate(823.64,67.20) scale(0.9557,1)" style="font-family:'Liberation Sans', sans-serif;font-size:29.22px;font-style:italic;" fill="#000" stroke="#000">M</text>
<text transform="translate(855.28,66.00) scale(1.5538,1)" style="font-family:'Liberation Sans', sans-serif;font-size:22.65px;" fill="#000" stroke="#000" class="e">=</text>
<text transform="translate(883.90,67.71) scale(0.9868,1)" style="font-family:'Liberation Sans', sans-serif;font-size:30.13px;" fill="#000" stroke="#000">0</text>
<path d="M743.3,99.10H802" stroke="#42233e" stroke-width="2"/>
<text transform="translate(823.64,108.80) scale(0.9557,1)" style="font-family:'Liberation Sans', sans-serif;font-size:29.22px;font-style:italic;" fill="#000" stroke="#000">M</text>
<text transform="translate(855.28,107.60) scale(1.5538,1)" style="font-family:'Liberation Sans', sans-serif;font-size:22.65px;" fill="#000" stroke="#000" class="e">=</text>
<text transform="translate(884.14,109.20) scale(0.9502,1)" style="font-family:'Liberation Sans', sans-serif;font-size:29.88px;" fill="#000" stroke="#000">1</text>
<path d="M743.3,140.60H802" stroke="#6b1846" stroke-width="2"/>
<text transform="translate(823.64,150.30) scale(0.9557,1)" style="font-family:'Liberation Sans', sans-serif;font-size:29.22px;font-style:italic;" fill="#000" stroke="#000">M</text>
<text transform="translate(855.28,149.10) scale(1.5538,1)" style="font-family:'Liberation Sans', sans-serif;font-size:22.65px;" fill="#000" stroke="#000" class="e">=</text>
<text transform="translate(883.82,150.70) scale(0.9559,1)" style="font-family:'Liberation Sans', sans-serif;font-size:29.97px;" fill="#000" stroke="#000">2</text>
<path d="M743.3,181.60H802" stroke="#9c1048" stroke-width="2"/>
<text transform="translate(823.64,191.30) scale(0.9557,1)" style="font-family:'Liberation Sans', sans-serif;font-size:29.22px;font-style:italic;" fill="#000" stroke="#000">M</text>
<text transform="translate(855.28,190.10) scale(1.5538,1)" style="font-family:'Liberation Sans', sans-serif;font-size:22.65px;" fill="#000" stroke="#000" class="e">=</text>
<text transform="translate(884.26,191.81) scale(0.9477,1)" style="font-family:'Liberation Sans', sans-serif;font-size:30.13px;" fill="#000" stroke="#000">3</text>
<path d="M743.3,223.10H802" stroke="#5c14a6" stroke-width="2"/>
<text transform="translate(823.64,232.80) scale(0.9557,1)" style="font-family:'Liberation Sans', sans-serif;font-size:29.22px;font-style:italic;" fill="#000" stroke="#000">M</text>
<text transform="translate(855.28,231.60) scale(1.5538,1)" style="font-family:'Liberation Sans', sans-serif;font-size:22.65px;" fill="#000" stroke="#000" class="e">=</text>
<text transform="translate(883.89,233.20) scale(0.9949,1)" style="font-family:'Liberation Sans', sans-serif;font-size:29.88px;" fill="#000" stroke="#000">4</text>
<text transform="translate(264.65,460.40) scale(1.0758,1)" style="font-family:'Liberation Sans', sans-serif;font-size:29.90px;" fill="#0000d0" stroke="#0000d0" class="a">dots: Stretching case</text>
<text transform="translate(266.56,511.70) scale(1.0596,1)" style="font-family:'Liberation Sans', sans-serif;font-size:29.90px;" fill="#0000d0" stroke="#0000d0" class="a">Solid: Shrinking case</text>
</svg>
</body></html>
